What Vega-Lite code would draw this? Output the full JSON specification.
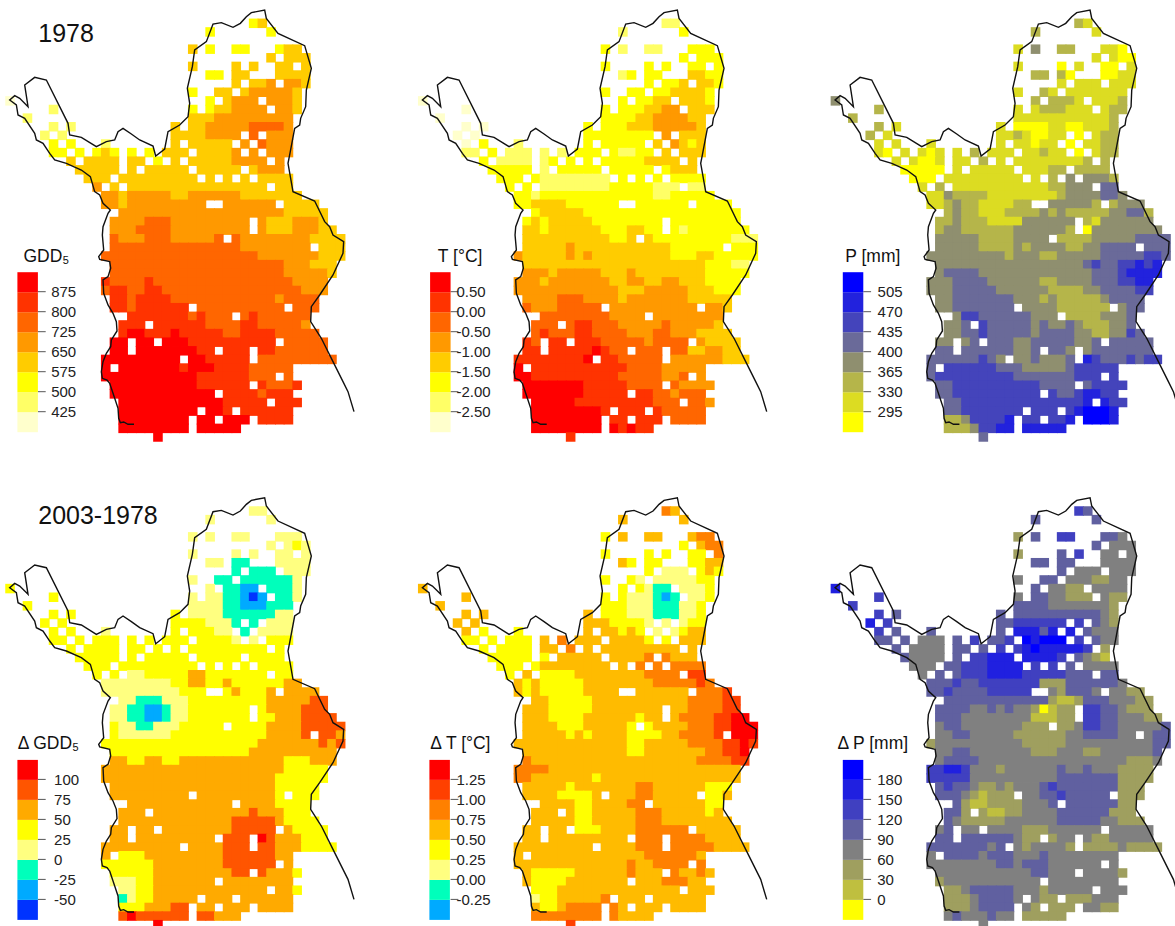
{"$schema":"https://vega.github.io/schema/vega-lite/v6.json","padding":{"left":4.7,"top":7,"right":0,"bottom":0},"background":"white","bounds":"flush","spacing":{"row":64.7,"column":72.7},"config":{"view":{"stroke":null},"font":"Liberation Sans","legend":{"orient":"none","gradientLength":160,"gradientThickness":20.5,"gradientStrokeWidth":0,"labelAlign":"right","labelFontSize":15,"labelColor":"#222","titleFontSize":17.5,"titleColor":"#111","titleFontWeight":"normal","titleAnchor":"middle","labelOverlap":false,"titlePadding":7},"title":{"anchor":"start","dx":33,"fontSize":25,"fontWeight":"normal","font":"Liberation Sans","color":"#111"}},"datasets":{"cells":[
{"c":28,"r":0,"a":540,"b":-2.2,"p":350,"d":10,"e":0.9,"f":135},{"c":29,"r":0,"a":610,"b":-2.2,"p":310,"d":10,"e":0.6,"f":105},
{"c":23,"r":1,"a":540,"b":-2.2,"p":350,"d":10,"e":0.6,"f":105},{"c":30,"r":1,"a":540,"b":-1.7,"p":310,"d":10,"e":0.6,"f":105},
{"c":21,"r":3,"a":610,"b":-1.7,"p":310,"d":10,"e":0.4,"f":45},{"c":23,"r":3,"a":540,"b":-2.2,"p":380,"d":10,"e":0.6,"f":105},{"c":26,"r":3,"a":540,"b":-2.2,"p":350,"d":10,"e":0.6,"f":135},{"c":27,"r":3,"a":540,"b":-2.2,"p":350,"d":10,"e":0.6,"f":135},{"c":31,"r":3,"a":540,"b":-1.7,"p":310,"d":10,"e":0.6,"f":105},{"c":32,"r":3,"a":610,"b":-1.7,"p":310,"d":10,"e":0.9,"f":105},{"c":33,"r":3,"a":610,"b":-1.7,"p":280,"d":10,"e":0.9,"f":75},
{"c":30,"r":4,"a":610,"b":-1.7,"p":310,"d":10,"e":0.4,"f":105},{"c":32,"r":4,"a":610,"b":-1.7,"p":310,"d":10,"e":0.6,"f":75},{"c":33,"r":4,"a":610,"b":-1.7,"p":280,"d":40,"e":0.9,"f":75},{"c":34,"r":4,"a":610,"b":-1.7,"p":280,"d":10,"e":0.9,"f":75},
{"c":21,"r":5,"a":610,"b":-1.7,"p":310,"d":10,"e":0.4,"f":45},{"c":26,"r":5,"a":610,"b":-1.7,"p":280,"d":10,"e":0.4,"f":105},{"c":28,"r":5,"a":610,"b":-1.7,"p":310,"d":10,"e":0.4,"f":135},{"c":31,"r":5,"a":610,"b":-1.7,"p":280,"d":10,"e":0.4,"f":75},{"c":32,"r":5,"a":610,"b":-1.7,"p":280,"d":10,"e":0.4,"f":75},{"c":34,"r":5,"a":610,"b":-1.7,"p":310,"d":10,"e":0.9,"f":75},
{"c":23,"r":6,"a":540,"b":-2.2,"p":350,"d":10,"e":0.6,"f":105},{"c":24,"r":6,"a":540,"b":-1.7,"p":350,"d":10,"e":0.4,"f":105},{"c":26,"r":6,"a":610,"b":-1.7,"p":350,"d":-10,"e":0.4,"f":105},{"c":27,"r":6,"a":610,"b":-1.7,"p":280,"d":-10,"e":0.4,"f":105},{"c":31,"r":6,"a":610,"b":-1.2,"p":280,"d":10,"e":0.4,"f":75},{"c":32,"r":6,"a":610,"b":-1.2,"p":280,"d":10,"e":0.4,"f":75},{"c":33,"r":6,"a":610,"b":-1.7,"p":310,"d":10,"e":0.6,"f":75},{"c":34,"r":6,"a":610,"b":-1.7,"p":310,"d":10,"e":0.6,"f":75},
{"c":26,"r":7,"a":610,"b":-1.7,"p":310,"d":-10,"e":0.4,"f":105},{"c":28,"r":7,"a":610,"b":-1.7,"p":310,"d":-10,"e":0.1,"f":75},{"c":29,"r":7,"a":610,"b":-1.7,"p":310,"d":-10,"e":0.1,"f":75},{"c":30,"r":7,"a":690,"b":-1.2,"p":310,"d":-10,"e":0.1,"f":75},{"c":32,"r":7,"a":690,"b":-1.2,"p":310,"d":10,"e":0.4,"f":75},{"c":33,"r":7,"a":690,"b":-1.2,"p":310,"d":10,"e":0.6,"f":75},{"c":34,"r":7,"a":610,"b":-1.7,"p":310,"d":10,"e":0.4,"f":75},
{"c":21,"r":8,"a":540,"b":-1.7,"p":310,"d":10,"e":0.4,"f":75},{"c":24,"r":8,"a":610,"b":-1.7,"p":350,"d":-10,"e":0.4,"f":105},{"c":25,"r":8,"a":610,"b":-1.7,"p":310,"d":-10,"e":0.1,"f":105},{"c":27,"r":8,"a":610,"b":-1.7,"p":310,"d":-10,"e":0.1,"f":75},{"c":28,"r":8,"a":690,"b":-1.7,"p":310,"d":-10,"e":0.1,"f":75},{"c":29,"r":8,"a":690,"b":-1.2,"p":310,"d":-10,"e":0.1,"f":75},{"c":30,"r":8,"a":690,"b":-1.2,"p":310,"d":-10,"e":0.1,"f":45},{"c":31,"r":8,"a":690,"b":-1.2,"p":310,"d":-10,"e":0.1,"f":45},{"c":32,"r":8,"a":690,"b":-1.2,"p":310,"d":-10,"e":0.4,"f":75},{"c":33,"r":8,"a":610,"b":-1.7,"p":310,"d":10,"e":0.4,"f":75},
{"c":0,"r":9,"a":400,"b":-2.7,"p":380,"d":40,"e":0.6,"f":165},{"c":23,"r":9,"a":540,"b":-1.7,"p":350,"d":10,"e":0.4,"f":105},{"c":25,"r":9,"a":610,"b":-1.7,"p":350,"d":-10,"e":0.4,"f":75},{"c":26,"r":9,"a":690,"b":-1.7,"p":350,"d":-10,"e":0.1,"f":75},{"c":27,"r":9,"a":690,"b":-1.2,"p":350,"d":-40,"e":-0.1,"f":45},{"c":28,"r":9,"a":690,"b":-1.2,"p":310,"d":-40,"e":-0.1,"f":45},{"c":30,"r":9,"a":690,"b":-1.2,"p":310,"d":-10,"e":0.1,"f":75},{"c":31,"r":9,"a":690,"b":-1.2,"p":310,"d":-10,"e":0.1,"f":75},{"c":32,"r":9,"a":690,"b":-1.2,"p":310,"d":-10,"e":0.1,"f":75},{"c":33,"r":9,"a":610,"b":-1.7,"p":350,"d":10,"e":0.4,"f":75},
{"c":5,"r":10,"a":460,"b":-2.7,"p":350,"d":40,"e":0.6,"f":135},{"c":21,"r":10,"a":540,"b":-1.7,"p":310,"d":10,"e":0.4,"f":75},{"c":23,"r":10,"a":540,"b":-1.7,"p":310,"d":10,"e":0.4,"f":105},{"c":24,"r":10,"a":610,"b":-1.7,"p":350,"d":10,"e":0.1,"f":105},{"c":25,"r":10,"a":610,"b":-1.7,"p":350,"d":-10,"e":0.1,"f":75},{"c":26,"r":10,"a":690,"b":-1.2,"p":350,"d":-10,"e":0.1,"f":75},{"c":27,"r":10,"a":690,"b":-1.2,"p":310,"d":-40,"e":-0.1,"f":45},{"c":28,"r":10,"a":690,"b":-0.7,"p":310,"d":-60,"e":-0.4,"f":45},{"c":29,"r":10,"a":690,"b":-0.7,"p":310,"d":-40,"e":-0.1,"f":45},{"c":31,"r":10,"a":690,"b":-1.2,"p":310,"d":-10,"e":0.1,"f":75},{"c":32,"r":10,"a":690,"b":-1.2,"p":350,"d":-10,"e":0.1,"f":45},{"c":33,"r":10,"a":610,"b":-1.2,"p":350,"d":10,"e":0.4,"f":45},
{"c":2,"r":11,"a":460,"b":-2.7,"p":350,"d":40,"e":0.6,"f":135},{"c":21,"r":11,"a":610,"b":-1.7,"p":310,"d":10,"e":0.4,"f":105},{"c":22,"r":11,"a":610,"b":-1.7,"p":310,"d":10,"e":0.4,"f":105},{"c":23,"r":11,"a":610,"b":-1.7,"p":310,"d":10,"e":0.4,"f":105},{"c":24,"r":11,"a":690,"b":-1.7,"p":310,"d":10,"e":0.1,"f":105},{"c":25,"r":11,"a":690,"b":-1.2,"p":310,"d":-10,"e":0.1,"f":75},{"c":26,"r":11,"a":690,"b":-1.2,"p":310,"d":-10,"e":0.1,"f":75},{"c":27,"r":11,"a":690,"b":-0.7,"p":310,"d":-40,"e":-0.1,"f":75},{"c":28,"r":11,"a":690,"b":-0.7,"p":310,"d":-40,"e":-0.1,"f":75},{"c":29,"r":11,"a":690,"b":-0.7,"p":310,"d":-40,"e":-0.1,"f":75},{"c":30,"r":11,"a":690,"b":-0.7,"p":310,"d":-10,"e":0.1,"f":75},{"c":31,"r":11,"a":690,"b":-1.2,"p":310,"d":-10,"e":0.1,"f":75},{"c":32,"r":11,"a":690,"b":-1.2,"p":350,"d":-10,"e":0.4,"f":45},
{"c":5,"r":12,"a":460,"b":-2.7,"p":350,"d":40,"e":0.6,"f":135},{"c":7,"r":12,"a":460,"b":-2.7,"p":310,"d":40,"e":0.6,"f":105},{"c":19,"r":12,"a":610,"b":-1.7,"p":310,"d":40,"e":0.6,"f":105},{"c":21,"r":12,"a":610,"b":-1.7,"p":280,"d":10,"e":0.4,"f":105},{"c":22,"r":12,"a":610,"b":-1.7,"p":280,"d":10,"e":0.4,"f":105},{"c":23,"r":12,"a":690,"b":-1.7,"p":280,"d":10,"e":0.4,"f":105},{"c":24,"r":12,"a":690,"b":-1.2,"p":280,"d":10,"e":0.1,"f":105},{"c":25,"r":12,"a":690,"b":-1.2,"p":310,"d":-10,"e":0.1,"f":105},{"c":26,"r":12,"a":690,"b":-1.2,"p":310,"d":-10,"e":0.1,"f":105},{"c":27,"r":12,"a":690,"b":-0.7,"p":280,"d":-10,"e":-0.1,"f":105},{"c":28,"r":12,"a":760,"b":-0.7,"p":280,"d":-10,"e":-0.1,"f":105},{"c":29,"r":12,"a":760,"b":-0.7,"p":310,"d":-10,"e":-0.1,"f":105},{"c":30,"r":12,"a":760,"b":-0.7,"p":310,"d":-10,"e":0.1,"f":105},{"c":31,"r":12,"a":760,"b":-0.7,"p":310,"d":10,"e":0.1,"f":75},{"c":32,"r":12,"a":690,"b":-1.2,"p":350,"d":10,"e":0.4,"f":45},
{"c":4,"r":13,"a":460,"b":-2.7,"p":350,"d":40,"e":0.6,"f":165},{"c":6,"r":13,"a":460,"b":-2.7,"p":310,"d":40,"e":0.6,"f":135},{"c":19,"r":13,"a":610,"b":-1.7,"p":310,"d":40,"e":0.6,"f":105},{"c":20,"r":13,"a":610,"b":-1.7,"p":310,"d":40,"e":0.6,"f":105},{"c":21,"r":13,"a":610,"b":-1.7,"p":350,"d":40,"e":0.6,"f":135},{"c":22,"r":13,"a":610,"b":-1.7,"p":310,"d":40,"e":0.4,"f":135},{"c":23,"r":13,"a":690,"b":-1.7,"p":280,"d":10,"e":0.4,"f":135},{"c":24,"r":13,"a":690,"b":-1.7,"p":280,"d":10,"e":0.4,"f":135},{"c":25,"r":13,"a":690,"b":-1.7,"p":310,"d":10,"e":0.4,"f":135},{"c":26,"r":13,"a":690,"b":-1.7,"p":310,"d":-10,"e":0.1,"f":135},{"c":28,"r":13,"a":760,"b":-0.7,"p":280,"d":-10,"e":0.1,"f":135},{"c":30,"r":13,"a":690,"b":-1.2,"p":310,"d":10,"e":0.1,"f":105},{"c":31,"r":13,"a":690,"b":-1.2,"p":350,"d":10,"e":0.4,"f":75},{"c":32,"r":13,"a":690,"b":-1.2,"p":350,"d":10,"e":0.4,"f":45},
{"c":5,"r":14,"a":540,"b":-2.7,"p":310,"d":40,"e":0.6,"f":135},{"c":7,"r":14,"a":540,"b":-1.7,"p":310,"d":40,"e":0.4,"f":105},{"c":11,"r":14,"a":460,"b":-2.2,"p":310,"d":10,"e":0.4,"f":105},{"c":19,"r":14,"a":610,"b":-1.7,"p":310,"d":40,"e":0.6,"f":105},{"c":21,"r":14,"a":610,"b":-1.7,"p":310,"d":40,"e":0.6,"f":165},{"c":22,"r":14,"a":610,"b":-1.7,"p":310,"d":40,"e":0.6,"f":165},{"c":23,"r":14,"a":610,"b":-1.7,"p":280,"d":40,"e":0.4,"f":165},{"c":24,"r":14,"a":610,"b":-1.7,"p":310,"d":10,"e":0.6,"f":105},{"c":25,"r":14,"a":610,"b":-1.7,"p":310,"d":10,"e":0.4,"f":165},{"c":27,"r":14,"a":690,"b":-1.2,"p":280,"d":-10,"e":0.1,"f":165},{"c":29,"r":14,"a":760,"b":-0.7,"p":310,"d":10,"e":0.1,"f":105},{"c":30,"r":14,"a":690,"b":-1.2,"p":310,"d":10,"e":0.4,"f":75},{"c":31,"r":14,"a":690,"b":-1.7,"p":350,"d":10,"e":0.6,"f":75},{"c":32,"r":14,"a":690,"b":-1.2,"p":350,"d":10,"e":0.6,"f":75},
{"c":5,"r":15,"a":540,"b":-2.2,"p":310,"d":40,"e":0.4,"f":105},{"c":6,"r":15,"a":540,"b":-2.2,"p":280,"d":40,"e":0.4,"f":105},{"c":8,"r":15,"a":540,"b":-1.7,"p":310,"d":40,"e":0.4,"f":105},{"c":10,"r":15,"a":540,"b":-2.2,"p":310,"d":40,"e":0.4,"f":75},{"c":11,"r":15,"a":610,"b":-2.2,"p":280,"d":40,"e":0.4,"f":75},{"c":12,"r":15,"a":540,"b":-2.2,"p":310,"d":40,"e":0.4,"f":75},{"c":14,"r":15,"a":540,"b":-2.2,"p":310,"d":40,"e":0.6,"f":105},{"c":16,"r":15,"a":540,"b":-2.2,"p":350,"d":40,"e":0.9,"f":135},{"c":18,"r":15,"a":610,"b":-1.7,"p":310,"d":40,"e":0.6,"f":105},{"c":19,"r":15,"a":610,"b":-1.7,"p":310,"d":40,"e":0.6,"f":105},{"c":20,"r":15,"a":610,"b":-1.7,"p":310,"d":40,"e":0.6,"f":135},{"c":22,"r":15,"a":610,"b":-1.7,"p":310,"d":40,"e":0.6,"f":195},{"c":23,"r":15,"a":610,"b":-2.2,"p":310,"d":40,"e":0.6,"f":165},{"c":24,"r":15,"a":610,"b":-2.2,"p":350,"d":40,"e":0.6,"f":195},{"c":25,"r":15,"a":610,"b":-1.7,"p":310,"d":40,"e":0.6,"f":195},{"c":26,"r":15,"a":690,"b":-1.7,"p":310,"d":10,"e":0.4,"f":195},{"c":28,"r":15,"a":690,"b":-1.2,"p":280,"d":10,"e":0.4,"f":135},{"c":30,"r":15,"a":690,"b":-1.2,"p":310,"d":40,"e":0.6,"f":105},{"c":31,"r":15,"a":690,"b":-1.2,"p":350,"d":40,"e":0.6,"f":75},{"c":32,"r":15,"a":690,"b":-1.2,"p":350,"d":40,"e":0.6,"f":75},
{"c":7,"r":16,"a":610,"b":-1.7,"p":310,"d":40,"e":0.4,"f":105},{"c":9,"r":16,"a":610,"b":-2.2,"p":310,"d":40,"e":0.4,"f":75},{"c":10,"r":16,"a":610,"b":-2.2,"p":280,"d":40,"e":0.4,"f":75},{"c":11,"r":16,"a":610,"b":-2.2,"p":280,"d":40,"e":0.4,"f":75},{"c":12,"r":16,"a":610,"b":-2.2,"p":310,"d":40,"e":0.4,"f":75},{"c":14,"r":16,"a":610,"b":-2.2,"p":310,"d":40,"e":0.6,"f":105},{"c":15,"r":16,"a":610,"b":-1.7,"p":310,"d":40,"e":0.6,"f":105},{"c":17,"r":16,"a":540,"b":-1.7,"p":350,"d":40,"e":0.9,"f":105},{"c":19,"r":16,"a":610,"b":-1.7,"p":310,"d":40,"e":0.6,"f":135},{"c":21,"r":16,"a":610,"b":-1.7,"p":310,"d":40,"e":0.6,"f":135},{"c":22,"r":16,"a":610,"b":-1.7,"p":310,"d":40,"e":0.6,"f":165},{"c":23,"r":16,"a":610,"b":-1.7,"p":310,"d":40,"e":0.6,"f":195},{"c":24,"r":16,"a":610,"b":-1.7,"p":310,"d":40,"e":0.6,"f":165},{"c":25,"r":16,"a":610,"b":-1.7,"p":310,"d":40,"e":0.6,"f":165},{"c":26,"r":16,"a":690,"b":-1.2,"p":310,"d":40,"e":0.6,"f":165},{"c":27,"r":16,"a":690,"b":-1.2,"p":310,"d":40,"e":0.6,"f":165},{"c":28,"r":16,"a":690,"b":-1.2,"p":310,"d":40,"e":0.6,"f":165},{"c":29,"r":16,"a":690,"b":-1.2,"p":350,"d":40,"e":0.6,"f":135},{"c":31,"r":16,"a":690,"b":-1.2,"p":350,"d":40,"e":0.6,"f":45},
{"c":8,"r":17,"a":610,"b":-1.7,"p":280,"d":40,"e":0.4,"f":105},{"c":9,"r":17,"a":610,"b":-1.7,"p":280,"d":40,"e":0.4,"f":75},{"c":10,"r":17,"a":610,"b":-1.7,"p":280,"d":40,"e":0.4,"f":75},{"c":11,"r":17,"a":610,"b":-1.7,"p":280,"d":40,"e":0.4,"f":75},{"c":12,"r":17,"a":610,"b":-1.7,"p":280,"d":40,"e":0.4,"f":75},{"c":14,"r":17,"a":610,"b":-2.2,"p":310,"d":40,"e":0.4,"f":105},{"c":16,"r":17,"a":610,"b":-1.7,"p":310,"d":40,"e":0.6,"f":135},{"c":17,"r":17,"a":610,"b":-1.7,"p":310,"d":40,"e":0.6,"f":135},{"c":18,"r":17,"a":610,"b":-1.7,"p":310,"d":40,"e":0.6,"f":165},{"c":19,"r":17,"a":610,"b":-1.7,"p":310,"d":40,"e":0.6,"f":165},{"c":20,"r":17,"a":610,"b":-1.7,"p":310,"d":40,"e":0.6,"f":165},{"c":22,"r":17,"a":610,"b":-1.7,"p":310,"d":40,"e":0.6,"f":165},{"c":23,"r":17,"a":610,"b":-1.7,"p":310,"d":40,"e":0.6,"f":165},{"c":24,"r":17,"a":610,"b":-1.7,"p":310,"d":40,"e":0.6,"f":165},{"c":25,"r":17,"a":610,"b":-1.7,"p":350,"d":40,"e":0.6,"f":165},{"c":26,"r":17,"a":610,"b":-1.7,"p":350,"d":40,"e":0.9,"f":135},{"c":28,"r":17,"a":610,"b":-1.7,"p":350,"d":40,"e":0.9,"f":105},{"c":29,"r":17,"a":690,"b":-1.2,"p":350,"d":40,"e":0.6,"f":75},{"c":30,"r":17,"a":690,"b":-1.2,"p":350,"d":40,"e":0.6,"f":45},{"c":31,"r":17,"a":690,"b":-1.2,"p":350,"d":40,"e":0.6,"f":15},
{"c":9,"r":18,"a":610,"b":-1.7,"p":280,"d":40,"e":0.4,"f":75},{"c":10,"r":18,"a":610,"b":-1.7,"p":280,"d":40,"e":0.4,"f":75},{"c":11,"r":18,"a":610,"b":-1.7,"p":280,"d":40,"e":0.4,"f":75},{"c":13,"r":18,"a":610,"b":-1.7,"p":310,"d":40,"e":0.4,"f":105},{"c":14,"r":18,"a":610,"b":-2.2,"p":310,"d":40,"e":0.6,"f":105},{"c":15,"r":18,"a":610,"b":-2.2,"p":310,"d":40,"e":0.6,"f":135},{"c":16,"r":18,"a":610,"b":-2.2,"p":310,"d":40,"e":0.6,"f":135},{"c":17,"r":18,"a":610,"b":-2.2,"p":310,"d":40,"e":0.6,"f":135},{"c":18,"r":18,"a":610,"b":-2.2,"p":310,"d":40,"e":0.6,"f":165},{"c":19,"r":18,"a":610,"b":-2.2,"p":310,"d":40,"e":0.6,"f":165},{"c":20,"r":18,"a":610,"b":-2.2,"p":310,"d":40,"e":0.6,"f":165},{"c":21,"r":18,"a":610,"b":-2.2,"p":310,"d":40,"e":0.6,"f":165},{"c":23,"r":18,"a":610,"b":-1.7,"p":310,"d":40,"e":0.6,"f":135},{"c":25,"r":18,"a":610,"b":-1.7,"p":350,"d":40,"e":0.9,"f":135},{"c":27,"r":18,"a":610,"b":-1.7,"p":380,"d":40,"e":0.9,"f":105},{"c":29,"r":18,"a":610,"b":-1.7,"p":380,"d":40,"e":0.9,"f":75},{"c":30,"r":18,"a":610,"b":-1.7,"p":380,"d":40,"e":0.9,"f":75},{"c":31,"r":18,"a":610,"b":-1.7,"p":380,"d":40,"e":0.9,"f":75},{"c":32,"r":18,"a":610,"b":-1.7,"p":350,"d":40,"e":0.9,"f":75},
{"c":10,"r":19,"a":690,"b":-1.7,"p":310,"d":40,"e":0.4,"f":75},{"c":12,"r":19,"a":610,"b":-1.7,"p":350,"d":40,"e":0.6,"f":105},{"c":14,"r":19,"a":610,"b":-2.2,"p":310,"d":10,"e":0.4,"f":105},{"c":15,"r":19,"a":610,"b":-2.2,"p":310,"d":10,"e":0.4,"f":135},{"c":16,"r":19,"a":610,"b":-2.2,"p":310,"d":40,"e":0.4,"f":135},{"c":17,"r":19,"a":610,"b":-2.2,"p":310,"d":40,"e":0.4,"f":135},{"c":18,"r":19,"a":610,"b":-2.2,"p":310,"d":40,"e":0.6,"f":165},{"c":19,"r":19,"a":610,"b":-2.2,"p":310,"d":40,"e":0.6,"f":165},{"c":20,"r":19,"a":610,"b":-2.2,"p":310,"d":40,"e":0.6,"f":165},{"c":21,"r":19,"a":610,"b":-2.2,"p":310,"d":60,"e":0.6,"f":165},{"c":22,"r":19,"a":610,"b":-1.7,"p":310,"d":60,"e":0.6,"f":135},{"c":23,"r":19,"a":610,"b":-1.7,"p":310,"d":40,"e":0.6,"f":135},{"c":24,"r":19,"a":610,"b":-1.7,"p":310,"d":40,"e":0.6,"f":135},{"c":25,"r":19,"a":610,"b":-1.7,"p":350,"d":40,"e":0.6,"f":135},{"c":26,"r":19,"a":610,"b":-1.7,"p":350,"d":40,"e":0.9,"f":135},{"c":27,"r":19,"a":610,"b":-2.2,"p":380,"d":40,"e":0.9,"f":105},{"c":28,"r":19,"a":610,"b":-2.2,"p":380,"d":40,"e":0.9,"f":105},{"c":29,"r":19,"a":610,"b":-2.2,"p":380,"d":40,"e":0.9,"f":105},{"c":31,"r":19,"a":610,"b":-2.2,"p":420,"d":40,"e":1.1,"f":105},{"c":32,"r":19,"a":610,"b":-2.2,"p":420,"d":40,"e":1.1,"f":105},
{"c":11,"r":20,"a":690,"b":-1.7,"p":310,"d":10,"e":0.6,"f":105},{"c":12,"r":20,"a":690,"b":-1.7,"p":310,"d":10,"e":0.4,"f":105},{"c":13,"r":20,"a":610,"b":-2.2,"p":380,"d":10,"e":0.6,"f":105},{"c":14,"r":20,"a":690,"b":-1.7,"p":350,"d":10,"e":0.4,"f":135},{"c":15,"r":20,"a":690,"b":-1.7,"p":350,"d":10,"e":0.4,"f":105},{"c":16,"r":20,"a":690,"b":-1.7,"p":350,"d":10,"e":0.4,"f":105},{"c":17,"r":20,"a":690,"b":-1.7,"p":350,"d":10,"e":0.4,"f":135},{"c":18,"r":20,"a":690,"b":-1.7,"p":310,"d":10,"e":0.4,"f":135},{"c":19,"r":20,"a":610,"b":-1.7,"p":310,"d":40,"e":0.6,"f":135},{"c":20,"r":20,"a":610,"b":-1.7,"p":310,"d":40,"e":0.6,"f":135},{"c":21,"r":20,"a":690,"b":-1.7,"p":310,"d":60,"e":0.6,"f":135},{"c":22,"r":20,"a":690,"b":-1.7,"p":310,"d":60,"e":0.6,"f":135},{"c":23,"r":20,"a":690,"b":-1.7,"p":310,"d":40,"e":0.6,"f":135},{"c":24,"r":20,"a":690,"b":-1.7,"p":310,"d":40,"e":0.6,"f":45},{"c":25,"r":20,"a":690,"b":-1.7,"p":310,"d":60,"e":0.6,"f":45},{"c":26,"r":20,"a":690,"b":-1.7,"p":350,"d":40,"e":0.6,"f":45},{"c":27,"r":20,"a":610,"b":-2.2,"p":380,"d":40,"e":0.9,"f":105},{"c":28,"r":20,"a":610,"b":-2.2,"p":380,"d":40,"e":0.9,"f":105},{"c":29,"r":20,"a":610,"b":-1.7,"p":380,"d":40,"e":0.9,"f":105},{"c":30,"r":20,"a":610,"b":-1.7,"p":380,"d":40,"e":0.9,"f":105},{"c":31,"r":20,"a":610,"b":-1.7,"p":420,"d":40,"e":0.9,"f":105},{"c":32,"r":20,"a":610,"b":-1.7,"p":420,"d":60,"e":1.1,"f":105},{"c":33,"r":20,"a":610,"b":-1.7,"p":380,"d":60,"e":0.9,"f":75},
{"c":11,"r":21,"a":690,"b":-1.7,"p":310,"d":10,"e":0.6,"f":105},{"c":12,"r":21,"a":690,"b":-1.7,"p":310,"d":10,"e":0.4,"f":105},{"c":13,"r":21,"a":610,"b":-1.2,"p":350,"d":10,"e":0.6,"f":135},{"c":14,"r":21,"a":690,"b":-1.2,"p":380,"d":10,"e":0.4,"f":105},{"c":15,"r":21,"a":690,"b":-1.2,"p":350,"d":10,"e":0.4,"f":105},{"c":16,"r":21,"a":690,"b":-1.2,"p":350,"d":10,"e":0.4,"f":105},{"c":17,"r":21,"a":690,"b":-1.7,"p":310,"d":10,"e":0.4,"f":105},{"c":18,"r":21,"a":690,"b":-1.7,"p":310,"d":10,"e":0.4,"f":135},{"c":19,"r":21,"a":690,"b":-1.7,"p":310,"d":10,"e":0.6,"f":135},{"c":20,"r":21,"a":690,"b":-1.7,"p":310,"d":40,"e":0.6,"f":135},{"c":21,"r":21,"a":690,"b":-1.7,"p":350,"d":40,"e":0.6,"f":135},{"c":22,"r":21,"a":690,"b":-1.7,"p":350,"d":40,"e":0.6,"f":135},{"c":25,"r":21,"a":690,"b":-1.7,"p":380,"d":40,"e":0.6,"f":75},{"c":26,"r":21,"a":690,"b":-1.7,"p":380,"d":60,"e":0.6,"f":45},{"c":27,"r":21,"a":690,"b":-1.7,"p":380,"d":40,"e":0.6,"f":105},{"c":28,"r":21,"a":690,"b":-1.7,"p":380,"d":40,"e":0.6,"f":105},{"c":29,"r":21,"a":690,"b":-1.7,"p":380,"d":40,"e":0.6,"f":105},{"c":30,"r":21,"a":690,"b":-1.7,"p":350,"d":60,"e":0.6,"f":75},{"c":32,"r":21,"a":610,"b":-1.7,"p":350,"d":60,"e":0.9,"f":75},{"c":33,"r":21,"a":610,"b":-1.7,"p":380,"d":60,"e":0.9,"f":75},{"c":34,"r":21,"a":610,"b":-1.7,"p":380,"d":60,"e":0.9,"f":45},{"c":35,"r":21,"a":610,"b":-1.7,"p":380,"d":60,"e":1.1,"f":45},
{"c":13,"r":22,"a":690,"b":-1.7,"p":350,"d":10,"e":0.6,"f":105},{"c":14,"r":22,"a":690,"b":-1.2,"p":380,"d":10,"e":0.6,"f":105},{"c":15,"r":22,"a":690,"b":-1.2,"p":350,"d":-10,"e":0.4,"f":105},{"c":16,"r":22,"a":690,"b":-1.2,"p":350,"d":-10,"e":0.4,"f":105},{"c":17,"r":22,"a":690,"b":-1.2,"p":310,"d":-10,"e":0.4,"f":105},{"c":18,"r":22,"a":690,"b":-1.2,"p":310,"d":10,"e":0.4,"f":105},{"c":19,"r":22,"a":690,"b":-1.7,"p":310,"d":10,"e":0.4,"f":105},{"c":20,"r":22,"a":690,"b":-1.7,"p":350,"d":10,"e":0.6,"f":105},{"c":21,"r":22,"a":690,"b":-1.7,"p":350,"d":40,"e":0.6,"f":105},{"c":22,"r":22,"a":690,"b":-1.7,"p":350,"d":40,"e":0.6,"f":105},{"c":23,"r":22,"a":690,"b":-1.7,"p":350,"d":40,"e":0.6,"f":105},{"c":24,"r":22,"a":690,"b":-1.7,"p":380,"d":40,"e":0.6,"f":105},{"c":25,"r":22,"a":690,"b":-1.7,"p":350,"d":40,"e":0.6,"f":45},{"c":26,"r":22,"a":690,"b":-1.7,"p":380,"d":40,"e":0.6,"f":15},{"c":27,"r":22,"a":690,"b":-1.7,"p":350,"d":40,"e":0.6,"f":15},{"c":28,"r":22,"a":690,"b":-1.7,"p":350,"d":40,"e":0.6,"f":45},{"c":29,"r":22,"a":690,"b":-1.7,"p":350,"d":40,"e":0.6,"f":105},{"c":30,"r":22,"a":690,"b":-1.7,"p":350,"d":60,"e":0.6,"f":105},{"c":31,"r":22,"a":690,"b":-1.7,"p":350,"d":60,"e":0.9,"f":105},{"c":32,"r":22,"a":610,"b":-1.7,"p":380,"d":60,"e":0.9,"f":75},{"c":33,"r":22,"a":610,"b":-1.7,"p":380,"d":60,"e":0.9,"f":75},{"c":34,"r":22,"a":610,"b":-1.7,"p":420,"d":60,"e":0.9,"f":75},{"c":35,"r":22,"a":610,"b":-1.7,"p":420,"d":90,"e":1.1,"f":45},{"c":36,"r":22,"a":610,"b":-1.7,"p":350,"d":90,"e":1.1,"f":45},
{"c":12,"r":23,"a":690,"b":-1.7,"p":350,"d":10,"e":0.6,"f":105},{"c":13,"r":23,"a":690,"b":-1.2,"p":350,"d":10,"e":0.6,"f":105},{"c":14,"r":23,"a":690,"b":-1.7,"p":380,"d":-10,"e":0.6,"f":105},{"c":15,"r":23,"a":690,"b":-1.2,"p":350,"d":-10,"e":0.4,"f":105},{"c":16,"r":23,"a":760,"b":-1.2,"p":350,"d":-40,"e":0.4,"f":75},{"c":17,"r":23,"a":760,"b":-1.2,"p":350,"d":-40,"e":0.4,"f":75},{"c":18,"r":23,"a":760,"b":-1.2,"p":310,"d":-10,"e":0.4,"f":105},{"c":19,"r":23,"a":690,"b":-1.2,"p":310,"d":10,"e":0.4,"f":75},{"c":20,"r":23,"a":690,"b":-1.7,"p":310,"d":10,"e":0.6,"f":105},{"c":21,"r":23,"a":690,"b":-1.7,"p":310,"d":40,"e":0.6,"f":75},{"c":22,"r":23,"a":690,"b":-1.7,"p":380,"d":40,"e":0.6,"f":75},{"c":23,"r":23,"a":690,"b":-1.7,"p":380,"d":40,"e":0.6,"f":45},{"c":24,"r":23,"a":690,"b":-1.7,"p":380,"d":40,"e":0.6,"f":-10},{"c":25,"r":23,"a":690,"b":-1.7,"p":380,"d":40,"e":0.6,"f":15},{"c":26,"r":23,"a":690,"b":-1.7,"p":380,"d":40,"e":0.6,"f":45},{"c":27,"r":23,"a":690,"b":-1.7,"p":380,"d":40,"e":0.6,"f":45},{"c":29,"r":23,"a":690,"b":-1.7,"p":350,"d":40,"e":0.6,"f":135},{"c":30,"r":23,"a":610,"b":-1.7,"p":310,"d":60,"e":0.6,"f":135},{"c":31,"r":23,"a":610,"b":-1.7,"p":380,"d":60,"e":0.9,"f":105},{"c":32,"r":23,"a":610,"b":-1.7,"p":380,"d":60,"e":0.9,"f":105},{"c":33,"r":23,"a":690,"b":-1.7,"p":380,"d":60,"e":0.9,"f":75},{"c":34,"r":23,"a":690,"b":-1.7,"p":380,"d":90,"e":0.9,"f":45},{"c":35,"r":23,"a":690,"b":-1.7,"p":380,"d":90,"e":1.1,"f":45},{"c":36,"r":23,"a":610,"b":-1.7,"p":380,"d":90,"e":1.1,"f":45},
{"c":12,"r":24,"a":690,"b":-1.2,"p":350,"d":10,"e":0.6,"f":105},{"c":13,"r":24,"a":690,"b":-1.2,"p":380,"d":10,"e":0.6,"f":105},{"c":14,"r":24,"a":690,"b":-1.7,"p":380,"d":-10,"e":0.6,"f":105},{"c":15,"r":24,"a":760,"b":-1.2,"p":350,"d":-10,"e":0.4,"f":75},{"c":16,"r":24,"a":760,"b":-1.2,"p":350,"d":-40,"e":0.4,"f":75},{"c":17,"r":24,"a":760,"b":-1.2,"p":350,"d":-40,"e":0.4,"f":75},{"c":18,"r":24,"a":760,"b":-1.2,"p":350,"d":-10,"e":0.4,"f":75},{"c":19,"r":24,"a":690,"b":-1.2,"p":350,"d":10,"e":0.6,"f":75},{"c":20,"r":24,"a":690,"b":-1.2,"p":350,"d":10,"e":0.6,"f":75},{"c":21,"r":24,"a":690,"b":-1.7,"p":380,"d":40,"e":0.6,"f":75},{"c":22,"r":24,"a":690,"b":-1.7,"p":380,"d":40,"e":0.6,"f":75},{"c":23,"r":24,"a":690,"b":-1.7,"p":380,"d":40,"e":0.6,"f":15},{"c":24,"r":24,"a":690,"b":-1.2,"p":380,"d":40,"e":0.6,"f":15},{"c":25,"r":24,"a":690,"b":-1.2,"p":380,"d":40,"e":0.4,"f":15},{"c":26,"r":24,"a":690,"b":-1.7,"p":380,"d":40,"e":0.6,"f":45},{"c":27,"r":24,"a":690,"b":-1.7,"p":350,"d":40,"e":0.6,"f":45},{"c":29,"r":24,"a":690,"b":-1.7,"p":280,"d":40,"e":0.6,"f":135},{"c":30,"r":24,"a":610,"b":-2.2,"p":380,"d":40,"e":0.9,"f":135},{"c":31,"r":24,"a":610,"b":-1.7,"p":380,"d":60,"e":0.9,"f":105},{"c":32,"r":24,"a":610,"b":-1.7,"p":380,"d":60,"e":0.9,"f":105},{"c":33,"r":24,"a":690,"b":-1.7,"p":380,"d":60,"e":0.9,"f":75},{"c":34,"r":24,"a":690,"b":-1.7,"p":380,"d":90,"e":1.1,"f":75},{"c":35,"r":24,"a":690,"b":-1.7,"p":380,"d":90,"e":1.1,"f":75},{"c":36,"r":24,"a":610,"b":-1.7,"p":380,"d":90,"e":1.4,"f":45},{"c":37,"r":24,"a":610,"b":-1.7,"p":380,"d":90,"e":1.4,"f":45},
{"c":12,"r":25,"a":760,"b":-1.2,"p":380,"d":40,"e":0.6,"f":75},{"c":13,"r":25,"a":690,"b":-1.2,"p":380,"d":10,"e":0.6,"f":105},{"c":14,"r":25,"a":690,"b":-1.2,"p":380,"d":10,"e":0.6,"f":105},{"c":15,"r":25,"a":690,"b":-1.2,"p":380,"d":-10,"e":0.6,"f":75},{"c":16,"r":25,"a":760,"b":-1.2,"p":380,"d":-10,"e":0.4,"f":75},{"c":17,"r":25,"a":760,"b":-1.2,"p":350,"d":10,"e":0.4,"f":75},{"c":18,"r":25,"a":760,"b":-1.2,"p":350,"d":10,"e":0.4,"f":75},{"c":19,"r":25,"a":690,"b":-1.2,"p":350,"d":10,"e":0.6,"f":75},{"c":20,"r":25,"a":690,"b":-1.2,"p":350,"d":40,"e":0.6,"f":75},{"c":21,"r":25,"a":690,"b":-1.2,"p":380,"d":40,"e":0.6,"f":75},{"c":22,"r":25,"a":690,"b":-1.7,"p":380,"d":40,"e":0.6,"f":45},{"c":23,"r":25,"a":690,"b":-1.7,"p":380,"d":40,"e":0.6,"f":45},{"c":24,"r":25,"a":760,"b":-1.2,"p":380,"d":40,"e":0.4,"f":45},{"c":26,"r":25,"a":760,"b":-1.2,"p":350,"d":40,"e":0.4,"f":45},{"c":27,"r":25,"a":690,"b":-1.7,"p":350,"d":40,"e":0.6,"f":45},{"c":28,"r":25,"a":690,"b":-1.7,"p":350,"d":40,"e":0.6,"f":75},{"c":29,"r":25,"a":690,"b":-1.7,"p":350,"d":40,"e":0.6,"f":135},{"c":30,"r":25,"a":690,"b":-1.7,"p":380,"d":60,"e":0.6,"f":135},{"c":31,"r":25,"a":690,"b":-1.7,"p":380,"d":60,"e":0.9,"f":105},{"c":32,"r":25,"a":690,"b":-1.7,"p":380,"d":60,"e":0.9,"f":105},{"c":33,"r":25,"a":690,"b":-1.7,"p":380,"d":60,"e":0.9,"f":75},{"c":34,"r":25,"a":690,"b":-1.7,"p":380,"d":90,"e":1.1,"f":75},{"c":35,"r":25,"a":610,"b":-1.7,"p":420,"d":90,"e":1.1,"f":75},{"c":36,"r":25,"a":610,"b":-2.2,"p":420,"d":90,"e":1.4,"f":75},{"c":37,"r":25,"a":610,"b":-2.2,"p":420,"d":90,"e":1.4,"f":75},{"c":38,"r":25,"a":610,"b":-2.2,"p":420,"d":90,"e":1.4,"f":105},
{"c":12,"r":26,"a":760,"b":-1.2,"p":380,"d":40,"e":0.6,"f":75},{"c":13,"r":26,"a":760,"b":-1.2,"p":380,"d":10,"e":0.6,"f":75},{"c":14,"r":26,"a":760,"b":-1.2,"p":380,"d":10,"e":0.6,"f":105},{"c":15,"r":26,"a":760,"b":-1.2,"p":380,"d":10,"e":0.6,"f":105},{"c":16,"r":26,"a":760,"b":-1.2,"p":380,"d":10,"e":0.6,"f":75},{"c":17,"r":26,"a":760,"b":-0.7,"p":350,"d":10,"e":0.4,"f":75},{"c":18,"r":26,"a":760,"b":-1.2,"p":350,"d":10,"e":0.6,"f":75},{"c":19,"r":26,"a":760,"b":-1.2,"p":350,"d":40,"e":0.4,"f":75},{"c":20,"r":26,"a":760,"b":-1.2,"p":350,"d":40,"e":0.6,"f":75},{"c":21,"r":26,"a":760,"b":-1.2,"p":380,"d":40,"e":0.6,"f":45},{"c":22,"r":26,"a":760,"b":-1.2,"p":350,"d":40,"e":0.6,"f":45},{"c":23,"r":26,"a":760,"b":-1.2,"p":380,"d":40,"e":0.6,"f":45},{"c":24,"r":26,"a":760,"b":-1.2,"p":380,"d":40,"e":0.4,"f":45},{"c":25,"r":26,"a":760,"b":-1.2,"p":380,"d":40,"e":0.4,"f":45},{"c":26,"r":26,"a":760,"b":-1.2,"p":380,"d":40,"e":0.4,"f":45},{"c":27,"r":26,"a":690,"b":-1.2,"p":350,"d":40,"e":0.4,"f":75},{"c":28,"r":26,"a":690,"b":-1.2,"p":350,"d":40,"e":0.6,"f":75},{"c":29,"r":26,"a":690,"b":-1.7,"p":380,"d":40,"e":0.6,"f":105},{"c":30,"r":26,"a":690,"b":-1.7,"p":380,"d":60,"e":0.9,"f":105},{"c":31,"r":26,"a":690,"b":-1.7,"p":420,"d":60,"e":0.9,"f":105},{"c":32,"r":26,"a":690,"b":-1.7,"p":420,"d":60,"e":0.9,"f":105},{"c":33,"r":26,"a":690,"b":-1.7,"p":420,"d":60,"e":0.9,"f":75},{"c":34,"r":26,"a":690,"b":-1.7,"p":420,"d":90,"e":1.1,"f":75},{"c":36,"r":26,"a":610,"b":-1.7,"p":420,"d":90,"e":1.4,"f":75},{"c":37,"r":26,"a":610,"b":-1.7,"p":420,"d":90,"e":1.4,"f":105},{"c":38,"r":26,"a":610,"b":-1.7,"p":420,"d":60,"e":1.4,"f":105},
{"c":11,"r":27,"a":760,"b":-0.7,"p":380,"d":40,"e":0.6,"f":45},{"c":12,"r":27,"a":760,"b":-1.2,"p":380,"d":40,"e":0.6,"f":75},{"c":13,"r":27,"a":760,"b":-1.2,"p":380,"d":40,"e":0.6,"f":75},{"c":14,"r":27,"a":760,"b":-1.2,"p":380,"d":40,"e":0.6,"f":75},{"c":15,"r":27,"a":760,"b":-1.2,"p":380,"d":40,"e":0.6,"f":75},{"c":16,"r":27,"a":760,"b":-1.2,"p":380,"d":40,"e":0.6,"f":75},{"c":17,"r":27,"a":760,"b":-0.7,"p":380,"d":40,"e":0.6,"f":75},{"c":18,"r":27,"a":760,"b":-1.2,"p":380,"d":40,"e":0.6,"f":75},{"c":19,"r":27,"a":760,"b":-0.7,"p":380,"d":40,"e":0.6,"f":75},{"c":20,"r":27,"a":760,"b":-1.2,"p":350,"d":40,"e":0.6,"f":75},{"c":21,"r":27,"a":760,"b":-1.2,"p":380,"d":40,"e":0.6,"f":75},{"c":22,"r":27,"a":760,"b":-1.2,"p":380,"d":40,"e":0.6,"f":45},{"c":23,"r":27,"a":760,"b":-1.2,"p":380,"d":40,"e":0.6,"f":45},{"c":24,"r":27,"a":760,"b":-1.2,"p":350,"d":40,"e":0.4,"f":45},{"c":25,"r":27,"a":760,"b":-1.2,"p":350,"d":40,"e":0.4,"f":45},{"c":26,"r":27,"a":760,"b":-1.2,"p":380,"d":40,"e":0.6,"f":45},{"c":27,"r":27,"a":760,"b":-1.2,"p":380,"d":40,"e":0.6,"f":75},{"c":28,"r":27,"a":760,"b":-1.2,"p":380,"d":40,"e":0.6,"f":75},{"c":29,"r":27,"a":690,"b":-1.7,"p":380,"d":60,"e":0.6,"f":75},{"c":30,"r":27,"a":690,"b":-1.7,"p":380,"d":60,"e":0.6,"f":75},{"c":31,"r":27,"a":690,"b":-1.7,"p":420,"d":60,"e":0.9,"f":75},{"c":32,"r":27,"a":690,"b":-1.2,"p":420,"d":60,"e":0.9,"f":75},{"c":33,"r":27,"a":690,"b":-1.2,"p":420,"d":60,"e":0.9,"f":75},{"c":34,"r":27,"a":690,"b":-1.7,"p":420,"d":60,"e":0.9,"f":75},{"c":35,"r":27,"a":690,"b":-1.7,"p":420,"d":60,"e":1.1,"f":75},{"c":36,"r":27,"a":610,"b":-1.7,"p":450,"d":90,"e":1.1,"f":75},{"c":37,"r":27,"a":610,"b":-1.7,"p":450,"d":60,"e":1.4,"f":105},{"c":38,"r":27,"a":610,"b":-1.7,"p":420,"d":90,"e":1.1,"f":105},
{"c":12,"r":28,"a":760,"b":-1.2,"p":380,"d":40,"e":0.6,"f":75},{"c":13,"r":28,"a":760,"b":-1.2,"p":380,"d":40,"e":0.6,"f":75},{"c":14,"r":28,"a":760,"b":-1.2,"p":380,"d":40,"e":0.6,"f":105},{"c":15,"r":28,"a":760,"b":-1.2,"p":380,"d":40,"e":0.6,"f":105},{"c":16,"r":28,"a":760,"b":-1.2,"p":380,"d":40,"e":0.6,"f":75},{"c":17,"r":28,"a":760,"b":-1.2,"p":380,"d":40,"e":0.6,"f":75},{"c":18,"r":28,"a":760,"b":-1.2,"p":380,"d":40,"e":0.6,"f":75},{"c":19,"r":28,"a":760,"b":-1.2,"p":380,"d":40,"e":0.6,"f":75},{"c":20,"r":28,"a":760,"b":-1.2,"p":380,"d":40,"e":0.6,"f":75},{"c":21,"r":28,"a":760,"b":-1.2,"p":380,"d":40,"e":0.6,"f":75},{"c":22,"r":28,"a":760,"b":-1.2,"p":380,"d":40,"e":0.6,"f":75},{"c":23,"r":28,"a":760,"b":-1.2,"p":380,"d":40,"e":0.6,"f":45},{"c":24,"r":28,"a":760,"b":-1.2,"p":380,"d":40,"e":0.4,"f":45},{"c":25,"r":28,"a":760,"b":-1.2,"p":380,"d":40,"e":0.4,"f":45},{"c":26,"r":28,"a":760,"b":-1.2,"p":380,"d":40,"e":0.6,"f":75},{"c":27,"r":28,"a":760,"b":-1.2,"p":380,"d":40,"e":0.6,"f":75},{"c":28,"r":28,"a":760,"b":-1.2,"p":380,"d":60,"e":0.6,"f":75},{"c":29,"r":28,"a":760,"b":-1.2,"p":420,"d":60,"e":0.6,"f":45},{"c":30,"r":28,"a":760,"b":-1.2,"p":450,"d":60,"e":0.6,"f":45},{"c":31,"r":28,"a":760,"b":-1.2,"p":420,"d":60,"e":0.6,"f":75},{"c":32,"r":28,"a":690,"b":-1.2,"p":420,"d":60,"e":0.6,"f":75},{"c":33,"r":28,"a":690,"b":-1.7,"p":450,"d":60,"e":0.9,"f":75},{"c":34,"r":28,"a":690,"b":-1.7,"p":450,"d":60,"e":0.9,"f":75},{"c":35,"r":28,"a":610,"b":-1.7,"p":490,"d":60,"e":1.1,"f":75},{"c":36,"r":28,"a":610,"b":-2.2,"p":450,"d":60,"e":1.1,"f":75},{"c":37,"r":28,"a":610,"b":-2.2,"p":490,"d":60,"e":1.4,"f":105},
{"c":12,"r":29,"a":760,"b":-0.7,"p":380,"d":60,"e":0.9,"f":75},{"c":13,"r":29,"a":760,"b":-0.7,"p":420,"d":60,"e":0.6,"f":105},{"c":14,"r":29,"a":760,"b":-0.7,"p":420,"d":40,"e":0.6,"f":105},{"c":15,"r":29,"a":760,"b":-1.2,"p":420,"d":40,"e":0.6,"f":105},{"c":16,"r":29,"a":760,"b":-0.7,"p":420,"d":60,"e":0.6,"f":105},{"c":17,"r":29,"a":760,"b":-0.7,"p":380,"d":60,"e":0.6,"f":75},{"c":18,"r":29,"a":760,"b":-0.7,"p":380,"d":40,"e":0.6,"f":75},{"c":19,"r":29,"a":760,"b":-0.7,"p":380,"d":40,"e":0.6,"f":75},{"c":20,"r":29,"a":760,"b":-0.7,"p":380,"d":60,"e":0.6,"f":75},{"c":21,"r":29,"a":760,"b":-1.2,"p":380,"d":60,"e":0.6,"f":75},{"c":22,"r":29,"a":760,"b":-1.2,"p":380,"d":60,"e":0.6,"f":75},{"c":23,"r":29,"a":760,"b":-1.2,"p":380,"d":60,"e":0.6,"f":75},{"c":24,"r":29,"a":760,"b":-0.7,"p":380,"d":60,"e":0.6,"f":75},{"c":25,"r":29,"a":760,"b":-1.2,"p":380,"d":60,"e":0.6,"f":75},{"c":26,"r":29,"a":760,"b":-1.2,"p":380,"d":60,"e":0.6,"f":75},{"c":27,"r":29,"a":760,"b":-1.2,"p":380,"d":60,"e":0.6,"f":75},{"c":28,"r":29,"a":760,"b":-1.2,"p":380,"d":60,"e":0.6,"f":75},{"c":29,"r":29,"a":760,"b":-1.2,"p":380,"d":60,"e":0.6,"f":75},{"c":30,"r":29,"a":760,"b":-1.2,"p":420,"d":60,"e":0.6,"f":75},{"c":31,"r":29,"a":760,"b":-1.2,"p":420,"d":60,"e":0.6,"f":75},{"c":32,"r":29,"a":690,"b":-1.2,"p":420,"d":40,"e":0.9,"f":75},{"c":33,"r":29,"a":690,"b":-1.7,"p":450,"d":40,"e":0.9,"f":75},{"c":34,"r":29,"a":690,"b":-1.7,"p":490,"d":40,"e":0.9,"f":45},{"c":35,"r":29,"a":690,"b":-1.7,"p":490,"d":60,"e":0.9,"f":45},{"c":36,"r":29,"a":690,"b":-1.7,"p":490,"d":60,"e":1.1,"f":45},{"c":37,"r":29,"a":610,"b":-1.7,"p":490,"d":60,"e":1.1,"f":75},
{"c":11,"r":30,"a":840,"b":-0.7,"p":380,"d":60,"e":0.9,"f":135},{"c":12,"r":30,"a":760,"b":-0.7,"p":380,"d":60,"e":0.9,"f":135},{"c":13,"r":30,"a":760,"b":-0.7,"p":380,"d":60,"e":0.9,"f":165},{"c":14,"r":30,"a":760,"b":-1.2,"p":420,"d":60,"e":0.9,"f":165},{"c":15,"r":30,"a":760,"b":-0.7,"p":420,"d":60,"e":0.6,"f":135},{"c":16,"r":30,"a":840,"b":-0.7,"p":420,"d":60,"e":0.6,"f":75},{"c":17,"r":30,"a":760,"b":-0.7,"p":420,"d":60,"e":0.6,"f":75},{"c":18,"r":30,"a":760,"b":-0.7,"p":380,"d":60,"e":0.6,"f":75},{"c":19,"r":30,"a":760,"b":-0.7,"p":380,"d":60,"e":0.6,"f":45},{"c":20,"r":30,"a":760,"b":-0.7,"p":380,"d":60,"e":0.6,"f":75},{"c":21,"r":30,"a":760,"b":-0.7,"p":380,"d":60,"e":0.6,"f":75},{"c":22,"r":30,"a":760,"b":-1.2,"p":380,"d":60,"e":0.6,"f":75},{"c":23,"r":30,"a":760,"b":-1.2,"p":380,"d":60,"e":0.6,"f":75},{"c":24,"r":30,"a":760,"b":-0.7,"p":350,"d":60,"e":0.6,"f":75},{"c":25,"r":30,"a":760,"b":-0.7,"p":350,"d":60,"e":0.6,"f":75},{"c":26,"r":30,"a":760,"b":-1.2,"p":380,"d":60,"e":0.6,"f":105},{"c":27,"r":30,"a":760,"b":-1.2,"p":380,"d":60,"e":0.6,"f":75},{"c":28,"r":30,"a":760,"b":-0.7,"p":380,"d":60,"e":0.6,"f":75},{"c":29,"r":30,"a":760,"b":-0.7,"p":380,"d":60,"e":0.6,"f":105},{"c":30,"r":30,"a":760,"b":-1.2,"p":420,"d":60,"e":0.6,"f":75},{"c":31,"r":30,"a":760,"b":-1.2,"p":420,"d":60,"e":0.6,"f":75},{"c":32,"r":30,"a":760,"b":-1.2,"p":420,"d":40,"e":0.6,"f":75},{"c":33,"r":30,"a":690,"b":-1.7,"p":450,"d":40,"e":0.6,"f":45},{"c":34,"r":30,"a":690,"b":-1.7,"p":450,"d":40,"e":0.6,"f":45},{"c":35,"r":30,"a":690,"b":-1.7,"p":490,"d":40,"e":0.6,"f":45},{"c":36,"r":30,"a":690,"b":-1.7,"p":490,"d":40,"e":0.6,"f":45},
{"c":11,"r":31,"a":760,"b":-0.7,"p":380,"d":60,"e":0.9,"f":135},{"c":12,"r":31,"a":840,"b":-0.7,"p":380,"d":60,"e":0.9,"f":135},{"c":13,"r":31,"a":840,"b":-0.7,"p":380,"d":60,"e":0.6,"f":135},{"c":14,"r":31,"a":760,"b":-0.7,"p":420,"d":60,"e":0.6,"f":135},{"c":15,"r":31,"a":760,"b":-0.7,"p":420,"d":60,"e":0.6,"f":135},{"c":16,"r":31,"a":840,"b":-0.7,"p":420,"d":60,"e":0.6,"f":75},{"c":17,"r":31,"a":840,"b":-0.7,"p":420,"d":60,"e":0.6,"f":75},{"c":18,"r":31,"a":760,"b":-0.7,"p":420,"d":60,"e":0.6,"f":75},{"c":19,"r":31,"a":760,"b":-0.7,"p":380,"d":60,"e":0.6,"f":75},{"c":20,"r":31,"a":760,"b":-0.7,"p":380,"d":60,"e":0.4,"f":75},{"c":21,"r":31,"a":760,"b":-0.7,"p":380,"d":60,"e":0.6,"f":75},{"c":22,"r":31,"a":760,"b":-0.7,"p":380,"d":60,"e":0.6,"f":75},{"c":23,"r":31,"a":760,"b":-1.2,"p":380,"d":60,"e":0.6,"f":75},{"c":24,"r":31,"a":760,"b":-1.2,"p":380,"d":60,"e":0.6,"f":75},{"c":25,"r":31,"a":760,"b":-1.2,"p":350,"d":60,"e":0.6,"f":75},{"c":26,"r":31,"a":760,"b":-0.7,"p":350,"d":60,"e":0.6,"f":105},{"c":27,"r":31,"a":760,"b":-0.7,"p":350,"d":60,"e":0.6,"f":105},{"c":28,"r":31,"a":760,"b":-0.7,"p":350,"d":60,"e":0.6,"f":105},{"c":29,"r":31,"a":760,"b":-0.7,"p":380,"d":60,"e":0.6,"f":105},{"c":30,"r":31,"a":760,"b":-0.7,"p":380,"d":60,"e":0.6,"f":105},{"c":31,"r":31,"a":760,"b":-1.2,"p":420,"d":40,"e":0.6,"f":105},{"c":32,"r":31,"a":760,"b":-1.2,"p":420,"d":40,"e":0.6,"f":105},{"c":33,"r":31,"a":760,"b":-1.2,"p":420,"d":40,"e":0.6,"f":45},{"c":34,"r":31,"a":690,"b":-1.7,"p":420,"d":40,"e":0.6,"f":45},{"c":35,"r":31,"a":690,"b":-1.7,"p":450,"d":40,"e":0.6,"f":45},{"c":36,"r":31,"a":690,"b":-1.7,"p":450,"d":40,"e":0.6,"f":45},
{"c":12,"r":32,"a":840,"b":-0.7,"p":380,"d":60,"e":0.6,"f":105},{"c":13,"r":32,"a":840,"b":-0.7,"p":380,"d":60,"e":0.6,"f":135},{"c":14,"r":32,"a":760,"b":-0.7,"p":420,"d":60,"e":0.6,"f":105},{"c":15,"r":32,"a":840,"b":-0.7,"p":420,"d":60,"e":0.6,"f":105},{"c":16,"r":32,"a":840,"b":-0.2,"p":420,"d":60,"e":0.6,"f":75},{"c":17,"r":32,"a":840,"b":-0.2,"p":420,"d":60,"e":0.4,"f":45},{"c":18,"r":32,"a":840,"b":-0.2,"p":420,"d":60,"e":0.6,"f":45},{"c":19,"r":32,"a":760,"b":-0.7,"p":420,"d":60,"e":0.6,"f":75},{"c":20,"r":32,"a":760,"b":-0.7,"p":420,"d":60,"e":0.6,"f":45},{"c":21,"r":32,"a":760,"b":-0.7,"p":380,"d":60,"e":0.6,"f":75},{"c":22,"r":32,"a":760,"b":-0.7,"p":380,"d":60,"e":0.6,"f":75},{"c":23,"r":32,"a":760,"b":-1.2,"p":380,"d":60,"e":0.6,"f":75},{"c":24,"r":32,"a":760,"b":-0.7,"p":350,"d":60,"e":0.6,"f":105},{"c":25,"r":32,"a":760,"b":-0.7,"p":380,"d":60,"e":0.9,"f":135},{"c":26,"r":32,"a":760,"b":-0.7,"p":350,"d":60,"e":0.9,"f":105},{"c":27,"r":32,"a":760,"b":-0.7,"p":350,"d":60,"e":0.6,"f":105},{"c":28,"r":32,"a":760,"b":-0.7,"p":350,"d":60,"e":0.6,"f":105},{"c":29,"r":32,"a":760,"b":-0.7,"p":350,"d":60,"e":0.6,"f":105},{"c":30,"r":32,"a":760,"b":-0.7,"p":350,"d":60,"e":0.6,"f":105},{"c":31,"r":32,"a":690,"b":-1.2,"p":380,"d":40,"e":0.6,"f":105},{"c":32,"r":32,"a":760,"b":-1.2,"p":420,"d":40,"e":0.6,"f":105},{"c":33,"r":32,"a":760,"b":-1.2,"p":420,"d":40,"e":0.4,"f":45},{"c":34,"r":32,"a":760,"b":-1.2,"p":420,"d":40,"e":0.4,"f":45},{"c":35,"r":32,"a":760,"b":-1.2,"p":420,"d":40,"e":0.4,"f":45},
{"c":12,"r":33,"a":840,"b":-0.2,"p":380,"d":60,"e":0.6,"f":105},{"c":13,"r":33,"a":840,"b":-0.7,"p":380,"d":60,"e":0.6,"f":105},{"c":14,"r":33,"a":760,"b":-0.7,"p":420,"d":60,"e":0.6,"f":105},{"c":15,"r":33,"a":840,"b":-0.7,"p":420,"d":60,"e":0.6,"f":75},{"c":16,"r":33,"a":840,"b":-0.2,"p":420,"d":60,"e":0.4,"f":45},{"c":17,"r":33,"a":840,"b":-0.2,"p":420,"d":60,"e":0.4,"f":15},{"c":18,"r":33,"a":840,"b":-0.2,"p":420,"d":60,"e":0.4,"f":45},{"c":19,"r":33,"a":840,"b":-0.2,"p":420,"d":60,"e":0.4,"f":45},{"c":20,"r":33,"a":840,"b":-0.2,"p":420,"d":60,"e":0.6,"f":45},{"c":22,"r":33,"a":760,"b":-0.7,"p":380,"d":60,"e":0.6,"f":75},{"c":23,"r":33,"a":760,"b":-0.7,"p":380,"d":60,"e":0.6,"f":75},{"c":24,"r":33,"a":760,"b":-0.7,"p":380,"d":60,"e":0.6,"f":105},{"c":25,"r":33,"a":760,"b":-0.7,"p":380,"d":60,"e":0.9,"f":105},{"c":26,"r":33,"a":760,"b":-0.7,"p":350,"d":60,"e":0.9,"f":135},{"c":27,"r":33,"a":760,"b":-0.7,"p":350,"d":60,"e":0.6,"f":105},{"c":28,"r":33,"a":760,"b":-0.7,"p":350,"d":60,"e":0.6,"f":105},{"c":29,"r":33,"a":760,"b":-0.7,"p":350,"d":60,"e":0.6,"f":105},{"c":30,"r":33,"a":760,"b":-0.7,"p":350,"d":60,"e":0.6,"f":105},{"c":31,"r":33,"a":760,"b":-0.7,"p":350,"d":40,"e":0.6,"f":105},{"c":33,"r":33,"a":760,"b":-0.7,"p":380,"d":40,"e":0.4,"f":45},{"c":34,"r":33,"a":760,"b":-0.7,"p":420,"d":40,"e":0.4,"f":45},{"c":35,"r":33,"a":760,"b":-1.2,"p":420,"d":40,"e":0.6,"f":45},
{"c":14,"r":34,"a":840,"b":-0.2,"p":380,"d":60,"e":0.6,"f":105},{"c":15,"r":34,"a":840,"b":-0.2,"p":450,"d":60,"e":0.6,"f":45},{"c":16,"r":34,"a":840,"b":-0.2,"p":450,"d":60,"e":0.6,"f":15},{"c":17,"r":34,"a":840,"b":-0.2,"p":420,"d":60,"e":0.6,"f":15},{"c":18,"r":34,"a":840,"b":-0.2,"p":420,"d":60,"e":0.4,"f":45},{"c":19,"r":34,"a":840,"b":-0.2,"p":420,"d":60,"e":0.4,"f":45},{"c":20,"r":34,"a":840,"b":-0.2,"p":420,"d":60,"e":0.6,"f":45},{"c":21,"r":34,"a":760,"b":-0.2,"p":420,"d":60,"e":0.6,"f":45},{"c":22,"r":34,"a":840,"b":-0.7,"p":420,"d":60,"e":0.6,"f":75},{"c":23,"r":34,"a":760,"b":-0.7,"p":380,"d":60,"e":0.6,"f":75},{"c":24,"r":34,"a":760,"b":-0.7,"p":380,"d":60,"e":0.9,"f":75},{"c":25,"r":34,"a":760,"b":-0.7,"p":380,"d":60,"e":0.9,"f":105},{"c":27,"r":34,"a":760,"b":-0.7,"p":350,"d":60,"e":0.6,"f":105},{"c":28,"r":34,"a":840,"b":-0.7,"p":350,"d":60,"e":0.6,"f":105},{"c":29,"r":34,"a":760,"b":-0.7,"p":350,"d":60,"e":0.6,"f":105},{"c":30,"r":34,"a":760,"b":-0.7,"p":350,"d":60,"e":0.6,"f":105},{"c":31,"r":34,"a":760,"b":-0.7,"p":380,"d":40,"e":0.6,"f":105},{"c":32,"r":34,"a":760,"b":-0.7,"p":380,"d":40,"e":0.6,"f":105},{"c":33,"r":34,"a":760,"b":-0.7,"p":380,"d":40,"e":0.4,"f":45},{"c":34,"r":34,"a":760,"b":-0.7,"p":420,"d":40,"e":0.4,"f":45},
{"c":13,"r":35,"a":840,"b":-0.2,"p":380,"d":60,"e":0.6,"f":105},{"c":14,"r":35,"a":840,"b":-0.2,"p":380,"d":60,"e":0.6,"f":105},{"c":15,"r":35,"a":840,"b":-0.2,"p":420,"d":60,"e":0.6,"f":45},{"c":17,"r":35,"a":840,"b":-0.2,"p":450,"d":60,"e":0.6,"f":45},{"c":18,"r":35,"a":840,"b":0.2,"p":420,"d":60,"e":0.4,"f":15},{"c":19,"r":35,"a":840,"b":0.2,"p":420,"d":60,"e":0.4,"f":15},{"c":20,"r":35,"a":840,"b":-0.2,"p":420,"d":60,"e":0.6,"f":45},{"c":21,"r":35,"a":840,"b":-0.2,"p":420,"d":60,"e":0.6,"f":45},{"c":22,"r":35,"a":840,"b":-0.2,"p":420,"d":60,"e":0.6,"f":75},{"c":23,"r":35,"a":760,"b":-0.7,"p":380,"d":60,"e":0.6,"f":75},{"c":24,"r":35,"a":760,"b":-0.7,"p":420,"d":60,"e":0.6,"f":75},{"c":25,"r":35,"a":760,"b":-0.7,"p":380,"d":60,"e":0.9,"f":75},{"c":26,"r":35,"a":760,"b":-0.7,"p":380,"d":60,"e":0.9,"f":105},{"c":27,"r":35,"a":840,"b":-0.7,"p":420,"d":60,"e":0.9,"f":105},{"c":28,"r":35,"a":840,"b":-0.2,"p":380,"d":90,"e":0.6,"f":105},{"c":29,"r":35,"a":760,"b":-0.7,"p":350,"d":60,"e":0.6,"f":105},{"c":30,"r":35,"a":760,"b":-0.7,"p":350,"d":60,"e":0.6,"f":105},{"c":31,"r":35,"a":760,"b":-0.7,"p":350,"d":60,"e":0.6,"f":105},{"c":32,"r":35,"a":760,"b":-0.7,"p":380,"d":40,"e":0.6,"f":45},{"c":33,"r":35,"a":760,"b":-0.7,"p":380,"d":40,"e":0.4,"f":45},{"c":34,"r":35,"a":690,"b":-1.2,"p":420,"d":40,"e":0.6,"f":45},
{"c":13,"r":36,"a":840,"b":-0.2,"p":380,"d":60,"e":0.6,"f":105},{"c":14,"r":36,"a":900,"b":0.2,"p":380,"d":60,"e":0.6,"f":75},{"c":15,"r":36,"a":900,"b":-0.2,"p":420,"d":60,"e":0.6,"f":45},{"c":16,"r":36,"a":840,"b":-0.2,"p":420,"d":60,"e":0.6,"f":45},{"c":17,"r":36,"a":840,"b":-0.2,"p":450,"d":60,"e":0.6,"f":45},{"c":18,"r":36,"a":840,"b":0.2,"p":420,"d":60,"e":0.4,"f":45},{"c":19,"r":36,"a":900,"b":0.2,"p":420,"d":60,"e":0.4,"f":45},{"c":20,"r":36,"a":840,"b":-0.2,"p":420,"d":60,"e":0.6,"f":75},{"c":21,"r":36,"a":840,"b":-0.2,"p":420,"d":60,"e":0.6,"f":75},{"c":22,"r":36,"a":840,"b":-0.2,"p":420,"d":60,"e":0.6,"f":75},{"c":23,"r":36,"a":840,"b":-0.2,"p":380,"d":60,"e":0.6,"f":75},{"c":24,"r":36,"a":840,"b":-0.7,"p":420,"d":60,"e":0.6,"f":75},{"c":25,"r":36,"a":760,"b":-0.7,"p":420,"d":60,"e":0.9,"f":75},{"c":26,"r":36,"a":760,"b":-0.7,"p":420,"d":90,"e":0.9,"f":105},{"c":27,"r":36,"a":840,"b":-0.2,"p":420,"d":90,"e":0.9,"f":105},{"c":28,"r":36,"a":840,"b":-0.2,"p":380,"d":90,"e":0.6,"f":105},{"c":29,"r":36,"a":840,"b":-0.7,"p":380,"d":90,"e":0.6,"f":105},{"c":30,"r":36,"a":840,"b":-0.7,"p":350,"d":90,"e":0.6,"f":105},{"c":31,"r":36,"a":760,"b":-0.7,"p":350,"d":60,"e":0.6,"f":75},{"c":32,"r":36,"a":760,"b":-1.2,"p":380,"d":40,"e":0.6,"f":75},{"c":33,"r":36,"a":760,"b":-1.2,"p":380,"d":40,"e":0.6,"f":45},{"c":34,"r":36,"a":760,"b":-1.2,"p":450,"d":40,"e":0.6,"f":45},{"c":35,"r":36,"a":760,"b":-1.2,"p":420,"d":40,"e":0.6,"f":45},
{"c":12,"r":37,"a":900,"b":0.2,"p":380,"d":60,"e":0.6,"f":75},{"c":13,"r":37,"a":900,"b":-0.2,"p":380,"d":60,"e":0.6,"f":105},{"c":15,"r":37,"a":900,"b":0.2,"p":380,"d":60,"e":0.6,"f":75},{"c":16,"r":37,"a":900,"b":0.2,"p":420,"d":60,"e":0.6,"f":75},{"c":18,"r":37,"a":900,"b":0.2,"p":420,"d":60,"e":0.4,"f":75},{"c":19,"r":37,"a":900,"b":0.2,"p":420,"d":60,"e":0.4,"f":75},{"c":20,"r":37,"a":900,"b":0.2,"p":420,"d":60,"e":0.4,"f":75},{"c":21,"r":37,"a":840,"b":-0.2,"p":380,"d":60,"e":0.6,"f":75},{"c":22,"r":37,"a":840,"b":-0.2,"p":380,"d":60,"e":0.6,"f":45},{"c":23,"r":37,"a":840,"b":-0.2,"p":420,"d":60,"e":0.6,"f":45},{"c":24,"r":37,"a":840,"b":-0.2,"p":420,"d":60,"e":0.6,"f":45},{"c":25,"r":37,"a":840,"b":-0.2,"p":420,"d":60,"e":0.9,"f":75},{"c":26,"r":37,"a":840,"b":-0.7,"p":420,"d":90,"e":0.9,"f":75},{"c":27,"r":37,"a":840,"b":-0.2,"p":420,"d":90,"e":0.9,"f":75},{"c":28,"r":37,"a":840,"b":-0.2,"p":380,"d":90,"e":0.9,"f":75},{"c":29,"r":37,"a":840,"b":-0.2,"p":380,"d":90,"e":0.9,"f":75},{"c":30,"r":37,"a":840,"b":-0.2,"p":420,"d":90,"e":0.9,"f":75},{"c":32,"r":37,"a":760,"b":-0.7,"p":420,"d":60,"e":0.6,"f":75},{"c":33,"r":37,"a":760,"b":-1.2,"p":420,"d":40,"e":0.6,"f":75},{"c":34,"r":37,"a":760,"b":-1.2,"p":420,"d":40,"e":0.6,"f":75},{"c":35,"r":37,"a":760,"b":-1.2,"p":420,"d":40,"e":0.6,"f":75},{"c":36,"r":37,"a":760,"b":-1.2,"p":420,"d":40,"e":0.6,"f":75},
{"c":12,"r":38,"a":900,"b":0.2,"p":420,"d":60,"e":0.6,"f":105},{"c":13,"r":38,"a":900,"b":0.2,"p":420,"d":60,"e":0.6,"f":105},{"c":15,"r":38,"a":900,"b":0.2,"p":420,"d":60,"e":0.6,"f":105},{"c":16,"r":38,"a":900,"b":0.2,"p":420,"d":60,"e":0.6,"f":105},{"c":17,"r":38,"a":900,"b":0.2,"p":420,"d":60,"e":0.6,"f":105},{"c":18,"r":38,"a":900,"b":0.2,"p":420,"d":60,"e":0.6,"f":105},{"c":19,"r":38,"a":900,"b":0.2,"p":420,"d":60,"e":0.6,"f":105},{"c":20,"r":38,"a":900,"b":0.7,"p":420,"d":60,"e":0.6,"f":105},{"c":21,"r":38,"a":900,"b":0.2,"p":380,"d":60,"e":0.6,"f":75},{"c":22,"r":38,"a":840,"b":-0.2,"p":380,"d":60,"e":0.6,"f":45},{"c":23,"r":38,"a":840,"b":-0.2,"p":420,"d":60,"e":0.6,"f":45},{"c":25,"r":38,"a":840,"b":-0.2,"p":420,"d":90,"e":0.9,"f":45},{"c":26,"r":38,"a":840,"b":-0.2,"p":420,"d":90,"e":0.9,"f":75},{"c":27,"r":38,"a":840,"b":-0.2,"p":380,"d":90,"e":0.9,"f":75},{"c":29,"r":38,"a":840,"b":-0.2,"p":380,"d":110,"e":0.9,"f":75},{"c":30,"r":38,"a":840,"b":-0.2,"p":420,"d":90,"e":0.9,"f":45},{"c":31,"r":38,"a":760,"b":-1.2,"p":420,"d":60,"e":0.9,"f":45},{"c":32,"r":38,"a":760,"b":-1.2,"p":420,"d":60,"e":0.9,"f":75},{"c":33,"r":38,"a":760,"b":-0.7,"p":420,"d":60,"e":0.6,"f":75},{"c":34,"r":38,"a":760,"b":-0.7,"p":420,"d":40,"e":0.6,"f":75},{"c":35,"r":38,"a":760,"b":-1.2,"p":420,"d":40,"e":0.6,"f":75},{"c":36,"r":38,"a":760,"b":-1.2,"p":420,"d":40,"e":0.6,"f":75},
{"c":11,"r":39,"a":900,"b":0.2,"p":420,"d":60,"e":0.6,"f":105},{"c":12,"r":39,"a":900,"b":0.2,"p":420,"d":60,"e":0.6,"f":105},{"c":13,"r":39,"a":900,"b":0.2,"p":420,"d":60,"e":0.6,"f":105},{"c":15,"r":39,"a":900,"b":0.2,"p":420,"d":60,"e":0.6,"f":105},{"c":14,"r":39,"a":900,"b":0.2,"p":420,"d":60,"e":0.6,"f":105},{"c":16,"r":39,"a":900,"b":0.2,"p":420,"d":60,"e":0.6,"f":105},{"c":17,"r":39,"a":900,"b":0.2,"p":450,"d":60,"e":0.6,"f":105},{"c":18,"r":39,"a":900,"b":0.2,"p":420,"d":60,"e":0.6,"f":75},{"c":19,"r":39,"a":900,"b":0.7,"p":380,"d":60,"e":0.6,"f":105},{"c":21,"r":39,"a":900,"b":0.2,"p":380,"d":60,"e":0.6,"f":75},{"c":22,"r":39,"a":900,"b":0.2,"p":380,"d":60,"e":0.6,"f":45},{"c":23,"r":39,"a":840,"b":-0.2,"p":420,"d":60,"e":0.6,"f":75},{"c":24,"r":39,"a":840,"b":-0.2,"p":380,"d":60,"e":0.6,"f":75},{"c":25,"r":39,"a":840,"b":-0.2,"p":380,"d":90,"e":0.9,"f":75},{"c":26,"r":39,"a":840,"b":-0.2,"p":380,"d":90,"e":0.9,"f":75},{"c":27,"r":39,"a":840,"b":-0.2,"p":420,"d":90,"e":0.9,"f":45},{"c":29,"r":39,"a":760,"b":-0.7,"p":490,"d":90,"e":0.9,"f":45},{"c":30,"r":39,"a":760,"b":-0.7,"p":450,"d":90,"e":0.9,"f":45},{"c":31,"r":39,"a":760,"b":-0.7,"p":420,"d":60,"e":0.9,"f":45},{"c":32,"r":39,"a":760,"b":-0.7,"p":420,"d":60,"e":0.9,"f":45},{"c":33,"r":39,"a":760,"b":-0.7,"p":420,"d":60,"e":0.9,"f":75},{"c":34,"r":39,"a":760,"b":-0.7,"p":450,"d":40,"e":0.6,"f":45},{"c":35,"r":39,"a":760,"b":-1.2,"p":420,"d":40,"e":0.6,"f":45},{"c":36,"r":39,"a":760,"b":-1.2,"p":450,"d":40,"e":0.6,"f":45},{"c":37,"r":39,"a":760,"b":-1.2,"p":450,"d":40,"e":0.6,"f":45},
{"c":11,"r":40,"a":900,"b":0.7,"p":420,"d":60,"e":0.6,"f":75},{"c":13,"r":40,"a":900,"b":0.2,"p":450,"d":40,"e":0.6,"f":105},{"c":14,"r":40,"a":900,"b":0.2,"p":450,"d":40,"e":0.6,"f":105},{"c":15,"r":40,"a":900,"b":0.2,"p":450,"d":40,"e":0.6,"f":105},{"c":16,"r":40,"a":900,"b":0.2,"p":450,"d":60,"e":0.6,"f":105},{"c":17,"r":40,"a":900,"b":0.2,"p":450,"d":60,"e":0.6,"f":75},{"c":18,"r":40,"a":900,"b":0.2,"p":450,"d":60,"e":0.6,"f":105},{"c":19,"r":40,"a":900,"b":0.2,"p":420,"d":60,"e":0.6,"f":105},{"c":20,"r":40,"a":840,"b":0.2,"p":420,"d":60,"e":0.6,"f":105},{"c":21,"r":40,"a":900,"b":0.2,"p":420,"d":60,"e":0.6,"f":75},{"c":22,"r":40,"a":900,"b":0.2,"p":380,"d":60,"e":0.6,"f":75},{"c":23,"r":40,"a":900,"b":0.2,"p":380,"d":60,"e":0.6,"f":75},{"c":24,"r":40,"a":840,"b":-0.2,"p":380,"d":60,"e":0.6,"f":105},{"c":25,"r":40,"a":840,"b":-0.2,"p":380,"d":90,"e":0.6,"f":75},{"c":26,"r":40,"a":840,"b":-0.2,"p":380,"d":90,"e":0.9,"f":75},{"c":27,"r":40,"a":840,"b":-0.2,"p":420,"d":90,"e":0.9,"f":75},{"c":28,"r":40,"a":760,"b":-0.7,"p":450,"d":90,"e":0.9,"f":75},{"c":29,"r":40,"a":760,"b":-0.7,"p":450,"d":90,"e":0.9,"f":75},{"c":30,"r":40,"a":760,"b":-0.7,"p":450,"d":90,"e":0.9,"f":75},{"c":31,"r":40,"a":760,"b":-0.7,"p":450,"d":60,"e":0.9,"f":75},{"c":32,"r":40,"a":760,"b":-0.7,"p":450,"d":60,"e":0.6,"f":75},
{"c":11,"r":41,"a":900,"b":0.7,"p":420,"d":40,"e":0.6,"f":75},{"c":12,"r":41,"a":900,"b":0.7,"p":450,"d":40,"e":0.6,"f":75},{"c":13,"r":41,"a":900,"b":0.2,"p":450,"d":40,"e":0.6,"f":75},{"c":14,"r":41,"a":900,"b":0.2,"p":450,"d":40,"e":0.6,"f":75},{"c":15,"r":41,"a":900,"b":0.2,"p":450,"d":40,"e":0.6,"f":75},{"c":16,"r":41,"a":900,"b":0.2,"p":450,"d":40,"e":0.6,"f":75},{"c":17,"r":41,"a":900,"b":0.2,"p":450,"d":60,"e":0.6,"f":75},{"c":18,"r":41,"a":900,"b":0.2,"p":450,"d":60,"e":0.6,"f":75},{"c":19,"r":41,"a":900,"b":0.2,"p":450,"d":60,"e":0.6,"f":105},{"c":20,"r":41,"a":900,"b":0.2,"p":450,"d":60,"e":0.6,"f":105},{"c":21,"r":41,"a":900,"b":0.2,"p":420,"d":60,"e":0.6,"f":75},{"c":22,"r":41,"a":840,"b":0.2,"p":420,"d":60,"e":0.6,"f":105},{"c":23,"r":41,"a":840,"b":-0.2,"p":420,"d":60,"e":0.6,"f":105},{"c":24,"r":41,"a":840,"b":-0.2,"p":420,"d":60,"e":0.9,"f":105},{"c":25,"r":41,"a":840,"b":-0.2,"p":420,"d":90,"e":0.6,"f":75},{"c":26,"r":41,"a":840,"b":-0.2,"p":420,"d":90,"e":0.6,"f":75},{"c":27,"r":41,"a":840,"b":-0.2,"p":420,"d":90,"e":0.9,"f":75},{"c":28,"r":41,"a":760,"b":-0.7,"p":450,"d":90,"e":0.9,"f":75},{"c":29,"r":41,"a":760,"b":-0.7,"p":450,"d":90,"e":0.9,"f":75},{"c":30,"r":41,"a":760,"b":-0.2,"p":450,"d":90,"e":0.9,"f":75},{"c":32,"r":41,"a":760,"b":-0.7,"p":450,"d":60,"e":0.9,"f":75},
{"c":12,"r":42,"a":900,"b":0.7,"p":420,"d":40,"e":0.6,"f":75},{"c":13,"r":42,"a":900,"b":0.7,"p":420,"d":40,"e":0.4,"f":75},{"c":14,"r":42,"a":900,"b":0.7,"p":450,"d":40,"e":0.4,"f":75},{"c":15,"r":42,"a":900,"b":0.7,"p":450,"d":40,"e":0.4,"f":75},{"c":16,"r":42,"a":900,"b":0.7,"p":450,"d":40,"e":0.4,"f":75},{"c":17,"r":42,"a":900,"b":0.7,"p":450,"d":60,"e":0.4,"f":75},{"c":18,"r":42,"a":900,"b":0.7,"p":450,"d":60,"e":0.6,"f":75},{"c":19,"r":42,"a":900,"b":0.2,"p":450,"d":60,"e":0.6,"f":75},{"c":20,"r":42,"a":900,"b":0.2,"p":450,"d":60,"e":0.6,"f":75},{"c":21,"r":42,"a":900,"b":0.2,"p":450,"d":60,"e":0.6,"f":75},{"c":22,"r":42,"a":840,"b":0.2,"p":450,"d":60,"e":0.6,"f":75},{"c":23,"r":42,"a":840,"b":0.2,"p":450,"d":60,"e":0.6,"f":105},{"c":24,"r":42,"a":840,"b":-0.2,"p":420,"d":60,"e":0.9,"f":105},{"c":25,"r":42,"a":840,"b":-0.2,"p":420,"d":60,"e":0.6,"f":75},{"c":26,"r":42,"a":840,"b":-0.2,"p":420,"d":90,"e":0.6,"f":75},{"c":27,"r":42,"a":840,"b":-0.2,"p":420,"d":90,"e":0.6,"f":75},{"c":29,"r":42,"a":840,"b":-0.2,"p":420,"d":90,"e":0.9,"f":75},{"c":30,"r":42,"a":760,"b":-0.7,"p":450,"d":60,"e":0.6,"f":75},{"c":31,"r":42,"a":760,"b":-0.7,"p":450,"d":60,"e":0.6,"f":75},{"c":32,"r":42,"a":760,"b":-0.7,"p":450,"d":60,"e":0.9,"f":75},{"c":33,"r":42,"a":840,"b":-0.7,"p":450,"d":40,"e":0.6,"f":45},
{"c":12,"r":43,"a":900,"b":0.7,"p":420,"d":10,"e":0.6,"f":45},{"c":13,"r":43,"a":900,"b":0.7,"p":420,"d":10,"e":0.4,"f":75},{"c":14,"r":43,"a":900,"b":0.7,"p":450,"d":10,"e":0.4,"f":75},{"c":15,"r":43,"a":900,"b":0.7,"p":450,"d":40,"e":0.4,"f":75},{"c":16,"r":43,"a":900,"b":0.7,"p":450,"d":40,"e":0.4,"f":75},{"c":17,"r":43,"a":900,"b":0.7,"p":450,"d":60,"e":0.6,"f":75},{"c":18,"r":43,"a":900,"b":0.7,"p":450,"d":60,"e":0.6,"f":75},{"c":19,"r":43,"a":900,"b":0.2,"p":450,"d":60,"e":0.6,"f":75},{"c":20,"r":43,"a":900,"b":0.2,"p":450,"d":60,"e":0.6,"f":75},{"c":21,"r":43,"a":900,"b":0.2,"p":450,"d":60,"e":0.6,"f":75},{"c":22,"r":43,"a":900,"b":0.2,"p":450,"d":60,"e":0.6,"f":75},{"c":23,"r":43,"a":900,"b":0.2,"p":450,"d":60,"e":0.6,"f":75},{"c":25,"r":43,"a":840,"b":0.2,"p":450,"d":60,"e":0.6,"f":75},{"c":26,"r":43,"a":840,"b":0.2,"p":420,"d":60,"e":0.6,"f":75},{"c":27,"r":43,"a":840,"b":-0.2,"p":420,"d":60,"e":0.6,"f":75},{"c":28,"r":43,"a":840,"b":-0.2,"p":450,"d":60,"e":0.9,"f":75},{"c":29,"r":43,"a":760,"b":-0.7,"p":490,"d":60,"e":0.9,"f":75},{"c":30,"r":43,"a":840,"b":-0.2,"p":490,"d":60,"e":0.9,"f":75},{"c":31,"r":43,"a":840,"b":-0.2,"p":450,"d":60,"e":0.6,"f":75},{"c":32,"r":43,"a":840,"b":-0.2,"p":450,"d":60,"e":0.6,"f":75},
{"c":13,"r":44,"a":900,"b":0.7,"p":420,"d":10,"e":0.4,"f":45},{"c":14,"r":44,"a":900,"b":0.7,"p":420,"d":10,"e":0.4,"f":45},{"c":15,"r":44,"a":900,"b":0.7,"p":450,"d":40,"e":0.4,"f":75},{"c":16,"r":44,"a":900,"b":0.7,"p":450,"d":40,"e":0.6,"f":105},{"c":17,"r":44,"a":900,"b":0.7,"p":450,"d":60,"e":0.6,"f":105},{"c":18,"r":44,"a":900,"b":0.2,"p":450,"d":60,"e":0.6,"f":105},{"c":19,"r":44,"a":900,"b":0.2,"p":450,"d":60,"e":0.6,"f":105},{"c":20,"r":44,"a":900,"b":0.2,"p":450,"d":60,"e":0.6,"f":105},{"c":21,"r":44,"a":900,"b":0.2,"p":450,"d":60,"e":0.6,"f":75},{"c":22,"r":44,"a":900,"b":0.2,"p":450,"d":60,"e":0.6,"f":75},{"c":23,"r":44,"a":900,"b":0.2,"p":450,"d":60,"e":0.6,"f":75},{"c":24,"r":44,"a":900,"b":0.2,"p":450,"d":60,"e":0.6,"f":45},{"c":25,"r":44,"a":840,"b":0.2,"p":450,"d":60,"e":0.6,"f":75},{"c":26,"r":44,"a":840,"b":0.2,"p":450,"d":60,"e":0.6,"f":75},{"c":27,"r":44,"a":840,"b":-0.2,"p":450,"d":60,"e":0.6,"f":75},{"c":28,"r":44,"a":840,"b":-0.2,"p":450,"d":60,"e":0.6,"f":75},{"c":29,"r":44,"a":840,"b":-0.2,"p":490,"d":60,"e":0.6,"f":75},{"c":31,"r":44,"a":840,"b":-0.2,"p":490,"d":60,"e":0.6,"f":75},{"c":32,"r":44,"a":840,"b":-0.2,"p":450,"d":60,"e":0.6,"f":75},{"c":33,"r":44,"a":840,"b":-0.7,"p":450,"d":40,"e":0.6,"f":75},
{"c":13,"r":45,"a":900,"b":0.7,"p":420,"d":-10,"e":0.1,"f":45},{"c":14,"r":45,"a":900,"b":0.7,"p":420,"d":10,"e":0.4,"f":45},{"c":15,"r":45,"a":900,"b":0.7,"p":450,"d":40,"e":0.4,"f":45},{"c":16,"r":45,"a":900,"b":0.7,"p":450,"d":40,"e":0.6,"f":75},{"c":17,"r":45,"a":900,"b":0.7,"p":450,"d":60,"e":0.6,"f":105},{"c":18,"r":45,"a":900,"b":0.7,"p":450,"d":60,"e":0.6,"f":105},{"c":19,"r":45,"a":900,"b":0.7,"p":450,"d":60,"e":0.6,"f":105},{"c":20,"r":45,"a":900,"b":0.7,"p":450,"d":60,"e":0.6,"f":105},{"c":21,"r":45,"a":900,"b":0.2,"p":450,"d":60,"e":0.9,"f":75},{"c":23,"r":45,"a":900,"b":0.2,"p":450,"d":60,"e":0.6,"f":75},{"c":24,"r":45,"a":900,"b":0.2,"p":450,"d":60,"e":0.6,"f":45},{"c":25,"r":45,"a":840,"b":0.2,"p":450,"d":60,"e":0.6,"f":45},{"c":27,"r":45,"a":840,"b":0.2,"p":450,"d":60,"e":0.6,"f":45},{"c":28,"r":45,"a":840,"b":-0.2,"p":490,"d":60,"e":0.6,"f":45},{"c":29,"r":45,"a":840,"b":-0.2,"p":520,"d":60,"e":0.6,"f":45},{"c":30,"r":45,"a":840,"b":-0.2,"p":520,"d":60,"e":0.6,"f":75},{"c":31,"r":45,"a":840,"b":-0.2,"p":520,"d":60,"e":0.6,"f":75},{"c":32,"r":45,"a":840,"b":-0.2,"p":490,"d":60,"e":0.6,"f":75},
{"c":13,"r":46,"a":900,"b":0.7,"p":350,"d":40,"e":0.6,"f":45},{"c":14,"r":46,"a":900,"b":0.7,"p":350,"d":40,"e":0.4,"f":45},{"c":15,"r":46,"a":900,"b":0.7,"p":380,"d":40,"e":0.4,"f":45},{"c":16,"r":46,"a":900,"b":0.7,"p":450,"d":60,"e":0.6,"f":75},{"c":17,"r":46,"a":900,"b":0.7,"p":450,"d":60,"e":0.9,"f":105},{"c":18,"r":46,"a":900,"b":0.7,"p":450,"d":60,"e":0.9,"f":105},{"c":19,"r":46,"a":900,"b":0.7,"p":450,"d":90,"e":0.9,"f":105},{"c":20,"r":46,"a":900,"b":0.7,"p":490,"d":90,"e":0.9,"f":105},{"c":22,"r":46,"a":900,"b":0.2,"p":450,"d":60,"e":0.9,"f":75},{"c":23,"r":46,"a":900,"b":0.2,"p":450,"d":60,"e":0.6,"f":45},{"c":25,"r":46,"a":900,"b":0.2,"p":450,"d":60,"e":0.6,"f":45},{"c":26,"r":46,"a":900,"b":0.2,"p":450,"d":60,"e":0.6,"f":45},{"c":27,"r":46,"a":900,"b":0.2,"p":490,"d":60,"e":0.6,"f":45},{"c":29,"r":46,"a":840,"b":-0.2,"p":520,"d":60,"e":0.6,"f":75},{"c":30,"r":46,"a":840,"b":-0.2,"p":520,"d":60,"e":0.6,"f":75},{"c":31,"r":46,"a":840,"b":-0.2,"p":520,"d":60,"e":0.6,"f":45},{"c":32,"r":46,"a":840,"b":-0.2,"p":490,"d":60,"e":0.6,"f":45},
{"c":13,"r":47,"a":900,"b":0.7,"p":350,"d":90,"e":0.9,"f":75},{"c":14,"r":47,"a":900,"b":0.7,"p":350,"d":110,"e":0.9,"f":105},{"c":15,"r":47,"a":900,"b":0.7,"p":350,"d":90,"e":0.9,"f":75},{"c":16,"r":47,"a":900,"b":0.7,"p":380,"d":90,"e":0.9,"f":75},{"c":17,"r":47,"a":900,"b":0.7,"p":450,"d":90,"e":0.9,"f":75},{"c":18,"r":47,"a":900,"b":0.7,"p":450,"d":90,"e":0.9,"f":105},{"c":19,"r":47,"a":900,"b":0.7,"p":490,"d":90,"e":0.9,"f":75},{"c":20,"r":47,"a":900,"b":0.7,"p":490,"d":90,"e":0.9,"f":75},{"c":22,"r":47,"a":900,"b":0.7,"p":490,"d":90,"e":0.9,"f":45},{"c":23,"r":47,"a":900,"b":0.2,"p":490,"d":90,"e":0.6,"f":45},{"c":24,"r":47,"a":900,"b":0.7,"p":490,"d":60,"e":0.6,"f":45},{"c":25,"r":47,"a":900,"b":0.2,"p":490,"d":60,"e":0.6,"f":45},{"c":26,"r":47,"a":900,"b":0.2,"p":490,"d":60,"e":0.6,"f":45},
{"c":17,"r":48,"a":900,"b":0.2,"p":420,"d":110,"e":1.1,"f":75}
],"border":[{"i":1,"x":403,"y":1273},{"i":2,"x":385,"y":1273},{"i":3,"x":372,"y":1266},{"i":4,"x":362,"y":1268},{"i":5,"x":357,"y":1255},{"i":6,"x":355,"y":1225},{"i":7,"x":345,"y":1195},{"i":8,"x":340,"y":1180},{"i":9,"x":330,"y":1150},{"i":10,"x":322,"y":1140},{"i":11,"x":308,"y":1135},{"i":12,"x":305,"y":1115},{"i":13,"x":310,"y":1085},{"i":14,"x":320,"y":1060},{"i":15,"x":333,"y":1040},{"i":16,"x":335,"y":1020},{"i":17,"x":352,"y":993},{"i":18,"x":350,"y":965},{"i":19,"x":340,"y":940},{"i":20,"x":325,"y":915},{"i":21,"x":312,"y":880},{"i":22,"x":310,"y":840},{"i":23,"x":325,"y":830},{"i":24,"x":333,"y":805},{"i":25,"x":330,"y":785},{"i":26,"x":300,"y":778},{"i":27,"x":297,"y":770},{"i":28,"x":312,"y":750},{"i":29,"x":308,"y":705},{"i":30,"x":310,"y":680},{"i":31,"x":325,"y":640},{"i":32,"x":332,"y":630},{"i":33,"x":310,"y":610},{"i":34,"x":300,"y":585},{"i":35,"x":285,"y":575},{"i":36,"x":272,"y":530},{"i":37,"x":245,"y":510},{"i":38,"x":200,"y":490},{"i":39,"x":165,"y":480},{"i":40,"x":150,"y":460},{"i":41,"x":130,"y":430},{"i":42,"x":110,"y":420},{"i":43,"x":105,"y":400},{"i":44,"x":75,"y":355},{"i":45,"x":55,"y":345},{"i":46,"x":50,"y":315},{"i":47,"x":30,"y":300},{"i":48,"x":45,"y":287},{"i":49,"x":60,"y":295},{"i":50,"x":85,"y":320},{"i":51,"x":75,"y":255},{"i":52,"x":105,"y":232},{"i":53,"x":140,"y":240},{"i":54,"x":205,"y":370},{"i":55,"x":210,"y":405},{"i":56,"x":245,"y":412},{"i":57,"x":290,"y":440},{"i":58,"x":320,"y":425},{"i":59,"x":345,"y":420},{"i":60,"x":355,"y":395},{"i":61,"x":370,"y":385},{"i":62,"x":395,"y":402},{"i":63,"x":420,"y":420},{"i":64,"x":460,"y":438},{"i":65,"x":468,"y":468},{"i":66,"x":495,"y":447},{"i":67,"x":505,"y":395},{"i":68,"x":540,"y":375},{"i":69,"x":565,"y":350},{"i":70,"x":570,"y":310},{"i":71,"x":563,"y":265},{"i":72,"x":578,"y":200},{"i":73,"x":585,"y":150},{"i":74,"x":620,"y":125},{"i":75,"x":640,"y":72},{"i":76,"x":665,"y":68},{"i":77,"x":700,"y":82},{"i":78,"x":722,"y":70},{"i":79,"x":740,"y":50},{"i":80,"x":755,"y":38},{"i":81,"x":795,"y":30},{"i":82,"x":800,"y":55},{"i":83,"x":835,"y":100},{"i":84,"x":915,"y":137},{"i":85,"x":935,"y":205},{"i":86,"x":920,"y":270},{"i":87,"x":918,"y":320},{"i":88,"x":903,"y":355},{"i":89,"x":900,"y":375},{"i":90,"x":885,"y":385},{"i":91,"x":870,"y":465},{"i":92,"x":865,"y":490},{"i":93,"x":880,"y":575},{"i":94,"x":945,"y":603},{"i":95,"x":975,"y":665},{"i":96,"x":990,"y":680},{"i":97,"x":1000,"y":705},{"i":98,"x":1032,"y":725},{"i":99,"x":1030,"y":760},{"i":100,"x":1000,"y":825},{"i":101,"x":960,"y":885},{"i":102,"x":935,"y":920},{"i":103,"x":933,"y":965},{"i":104,"x":965,"y":1015},{"i":105,"x":1000,"y":1085},{"i":106,"x":1030,"y":1145},{"i":107,"x":1045,"y":1175},{"i":108,"x":1063,"y":1235}]},"columns":3,"concat":[{"width":339.3,"height":422.3,"title":{"text":"1978","offset":-40},"layer":[{"data":{"name":"cells"},"mark":{"type":"rect","width":9.6,"height":9.5},"encoding":{"x":{"field":"c","type":"quantitative","axis":null,"scale":{"domain":[-0.5,38.5],"nice":false,"zero":false}},"y":{"field":"r","type":"quantitative","axis":null,"scale":{"domain":[-0.5,48.5],"nice":false,"zero":false,"reverse":true}},"fill":{"field":"a","type":"quantitative","title":"GDD₅","scale":{"type":"threshold","domain":[425,500,575,650,725,800,875],"range":["#ffffcc","#ffff66","#ffff00","#ffcc00","#ff9900","#ff6600","#ff3300","#ff0000"]},"legend":{"type":"gradient","legendX":11.7,"legendY":228.7,"labelOffset":13.3}}}},{"data":{"name":"border"},"mark":{"type":"line","color":"#111","strokeWidth":1.4},"encoding":{"order":{"field":"i","type":"quantitative"},"x":{"field":"x","type":"quantitative","axis":null,"scale":{"domain":[18,1036],"nice":false,"zero":false}},"y":{"field":"y","type":"quantitative","axis":null,"scale":{"domain":[57,1324],"nice":false,"zero":false,"reverse":true}}}},{"data":{"values":[{"t":425},{"t":500},{"t":575},{"t":650},{"t":725},{"t":800},{"t":875}]},"mark":{"type":"rule","color":"#555","strokeWidth":1},"encoding":{"y":{"field":"t","type":"quantitative","axis":null,"scale":{"domain":[350,950],"range":[412.7,252.7],"nice":false,"zero":false}},"x":{"value":32.2},"x2":{"value":40}}}],"resolve":{"scale":{"x":"independent","y":"independent"}}},{"width":339.3,"height":422.3,"layer":[{"data":{"name":"cells"},"mark":{"type":"rect","width":9.6,"height":9.5},"encoding":{"x":{"field":"c","type":"quantitative","axis":null,"scale":{"domain":[-0.5,38.5],"nice":false,"zero":false}},"y":{"field":"r","type":"quantitative","axis":null,"scale":{"domain":[-0.5,48.5],"nice":false,"zero":false,"reverse":true}},"fill":{"field":"b","type":"quantitative","title":"T [°C]","scale":{"type":"threshold","domain":[-2.5,-2,-1.5,-1,-0.5,0,0.5],"range":["#ffffcc","#ffff66","#ffff00","#ffcc00","#ff9900","#ff6600","#ff3300","#ff0000"]},"legend":{"type":"gradient","legendX":11.7,"legendY":228.7,"labelOffset":5.8,"labelExpr":"datum.value<-1000?'':replace(format(datum.value,'.2f'),'−','-')"}}}},{"data":{"name":"border"},"mark":{"type":"line","color":"#111","strokeWidth":1.4},"encoding":{"order":{"field":"i","type":"quantitative"},"x":{"field":"x","type":"quantitative","axis":null,"scale":{"domain":[18,1036],"nice":false,"zero":false}},"y":{"field":"y","type":"quantitative","axis":null,"scale":{"domain":[57,1324],"nice":false,"zero":false,"reverse":true}}}},{"data":{"values":[{"t":-2.5},{"t":-2},{"t":-1.5},{"t":-1},{"t":-0.5},{"t":0},{"t":0.5}]},"mark":{"type":"rule","color":"#555","strokeWidth":1},"encoding":{"y":{"field":"t","type":"quantitative","axis":null,"scale":{"domain":[-3,1],"range":[412.7,252.7],"nice":false,"zero":false}},"x":{"value":32.2},"x2":{"value":40}}}],"resolve":{"scale":{"x":"independent","y":"independent"}}},{"width":339.3,"height":422.3,"layer":[{"data":{"name":"cells"},"mark":{"type":"rect","width":9.6,"height":9.5},"encoding":{"x":{"field":"c","type":"quantitative","axis":null,"scale":{"domain":[-0.5,38.5],"nice":false,"zero":false}},"y":{"field":"r","type":"quantitative","axis":null,"scale":{"domain":[-0.5,48.5],"nice":false,"zero":false,"reverse":true}},"fill":{"field":"p","type":"quantitative","title":"P [mm]","scale":{"type":"threshold","domain":[295,330,365,400,435,470,505],"range":["#ffff00","#dcdc22","#b5b54a","#8f8f6f","#6a6a99","#4444bb","#2222dd","#0000ff"]},"legend":{"type":"gradient","legendX":11.7,"legendY":228.7,"labelOffset":14.3}}}},{"data":{"name":"border"},"mark":{"type":"line","color":"#111","strokeWidth":1.4},"encoding":{"order":{"field":"i","type":"quantitative"},"x":{"field":"x","type":"quantitative","axis":null,"scale":{"domain":[18,1036],"nice":false,"zero":false}},"y":{"field":"y","type":"quantitative","axis":null,"scale":{"domain":[57,1324],"nice":false,"zero":false,"reverse":true}}}},{"data":{"values":[{"t":295},{"t":330},{"t":365},{"t":400},{"t":435},{"t":470},{"t":505}]},"mark":{"type":"rule","color":"#555","strokeWidth":1},"encoding":{"y":{"field":"t","type":"quantitative","axis":null,"scale":{"domain":[260,540],"range":[412.7,252.7],"nice":false,"zero":false}},"x":{"value":32.2},"x2":{"value":40}}}],"resolve":{"scale":{"x":"independent","y":"independent"}}},{"width":339.3,"height":422.3,"title":{"text":"2003-1978","offset":-34},"layer":[{"data":{"name":"cells"},"mark":{"type":"rect","width":9.6,"height":9.5},"encoding":{"x":{"field":"c","type":"quantitative","axis":null,"scale":{"domain":[-0.5,38.5],"nice":false,"zero":false}},"y":{"field":"r","type":"quantitative","axis":null,"scale":{"domain":[-0.5,48.5],"nice":false,"zero":false,"reverse":true}},"fill":{"field":"d","type":"quantitative","title":"Δ GDD₅","scale":{"type":"threshold","domain":[-50,-25,0,25,50,75,100],"range":["#0033ff","#00aaff","#00ffbb","#ffff80","#ffff00","#ffaa00","#ff5500","#ff0000"]},"legend":{"type":"gradient","legendX":11.7,"legendY":228.7,"labelOffset":16.2,"labelExpr":"datum.value<-1000?'':replace(format(datum.value,'d'),'−','-')"}}}},{"data":{"name":"border"},"mark":{"type":"line","color":"#111","strokeWidth":1.4},"encoding":{"order":{"field":"i","type":"quantitative"},"x":{"field":"x","type":"quantitative","axis":null,"scale":{"domain":[18,1036],"nice":false,"zero":false}},"y":{"field":"y","type":"quantitative","axis":null,"scale":{"domain":[57,1324],"nice":false,"zero":false,"reverse":true}}}},{"data":{"values":[{"t":-50},{"t":-25},{"t":0},{"t":25},{"t":50},{"t":75},{"t":100}]},"mark":{"type":"rule","color":"#555","strokeWidth":1},"encoding":{"y":{"field":"t","type":"quantitative","axis":null,"scale":{"domain":[-75,125],"range":[412.7,252.7],"nice":false,"zero":false}},"x":{"value":32.2},"x2":{"value":40}}}],"resolve":{"scale":{"x":"independent","y":"independent"}}},{"width":339.3,"height":422.3,"layer":[{"data":{"name":"cells"},"mark":{"type":"rect","width":9.6,"height":9.5},"encoding":{"x":{"field":"c","type":"quantitative","axis":null,"scale":{"domain":[-0.5,38.5],"nice":false,"zero":false}},"y":{"field":"r","type":"quantitative","axis":null,"scale":{"domain":[-0.5,48.5],"nice":false,"zero":false,"reverse":true}},"fill":{"field":"e","type":"quantitative","title":"Δ T [°C]","scale":{"type":"threshold","domain":[-0.25,0,0.25,0.5,0.75,1,1.25],"range":["#00aaff","#00ffbb","#ffff80","#ffff00","#ffbb00","#ff8000","#ff4000","#ff0000"]},"legend":{"type":"gradient","legendX":11,"legendY":228.7,"labelOffset":6.6,"labelExpr":"datum.value<-1000?'':replace(format(datum.value,'.2f'),'−','-')"}}}},{"data":{"name":"border"},"mark":{"type":"line","color":"#111","strokeWidth":1.4},"encoding":{"order":{"field":"i","type":"quantitative"},"x":{"field":"x","type":"quantitative","axis":null,"scale":{"domain":[18,1036],"nice":false,"zero":false}},"y":{"field":"y","type":"quantitative","axis":null,"scale":{"domain":[57,1324],"nice":false,"zero":false,"reverse":true}}}},{"data":{"values":[{"t":-0.25},{"t":0},{"t":0.25},{"t":0.5},{"t":0.75},{"t":1},{"t":1.25}]},"mark":{"type":"rule","color":"#555","strokeWidth":1},"encoding":{"y":{"field":"t","type":"quantitative","axis":null,"scale":{"domain":[-0.5,1.5],"range":[412.7,252.7],"nice":false,"zero":false}},"x":{"value":32.2},"x2":{"value":40}}}],"resolve":{"scale":{"x":"independent","y":"independent"}}},{"width":339.3,"height":422.3,"layer":[{"data":{"name":"cells"},"mark":{"type":"rect","width":9.6,"height":9.5},"encoding":{"x":{"field":"c","type":"quantitative","axis":null,"scale":{"domain":[-0.5,38.5],"nice":false,"zero":false}},"y":{"field":"r","type":"quantitative","axis":null,"scale":{"domain":[-0.5,48.5],"nice":false,"zero":false,"reverse":true}},"fill":{"field":"f","type":"quantitative","title":"Δ P [mm]","scale":{"type":"threshold","domain":[0,30,60,90,120,150,180],"range":["#ffff00","#bfbf3f","#9f9f5f","#808080","#6060a0","#4040c0","#2020e0","#0000ff"]},"legend":{"type":"gradient","legendX":5.7,"legendY":228.7,"labelOffset":14}}}},{"data":{"name":"border"},"mark":{"type":"line","color":"#111","strokeWidth":1.4},"encoding":{"order":{"field":"i","type":"quantitative"},"x":{"field":"x","type":"quantitative","axis":null,"scale":{"domain":[18,1036],"nice":false,"zero":false}},"y":{"field":"y","type":"quantitative","axis":null,"scale":{"domain":[57,1324],"nice":false,"zero":false,"reverse":true}}}},{"data":{"values":[{"t":0},{"t":30},{"t":60},{"t":90},{"t":120},{"t":150},{"t":180}]},"mark":{"type":"rule","color":"#555","strokeWidth":1},"encoding":{"y":{"field":"t","type":"quantitative","axis":null,"scale":{"domain":[-30,210],"range":[412.7,252.7],"nice":false,"zero":false}},"x":{"value":32.2},"x2":{"value":40}}}],"resolve":{"scale":{"x":"independent","y":"independent"}}}],"resolve":{"scale":{"fill":"independent"}}}
